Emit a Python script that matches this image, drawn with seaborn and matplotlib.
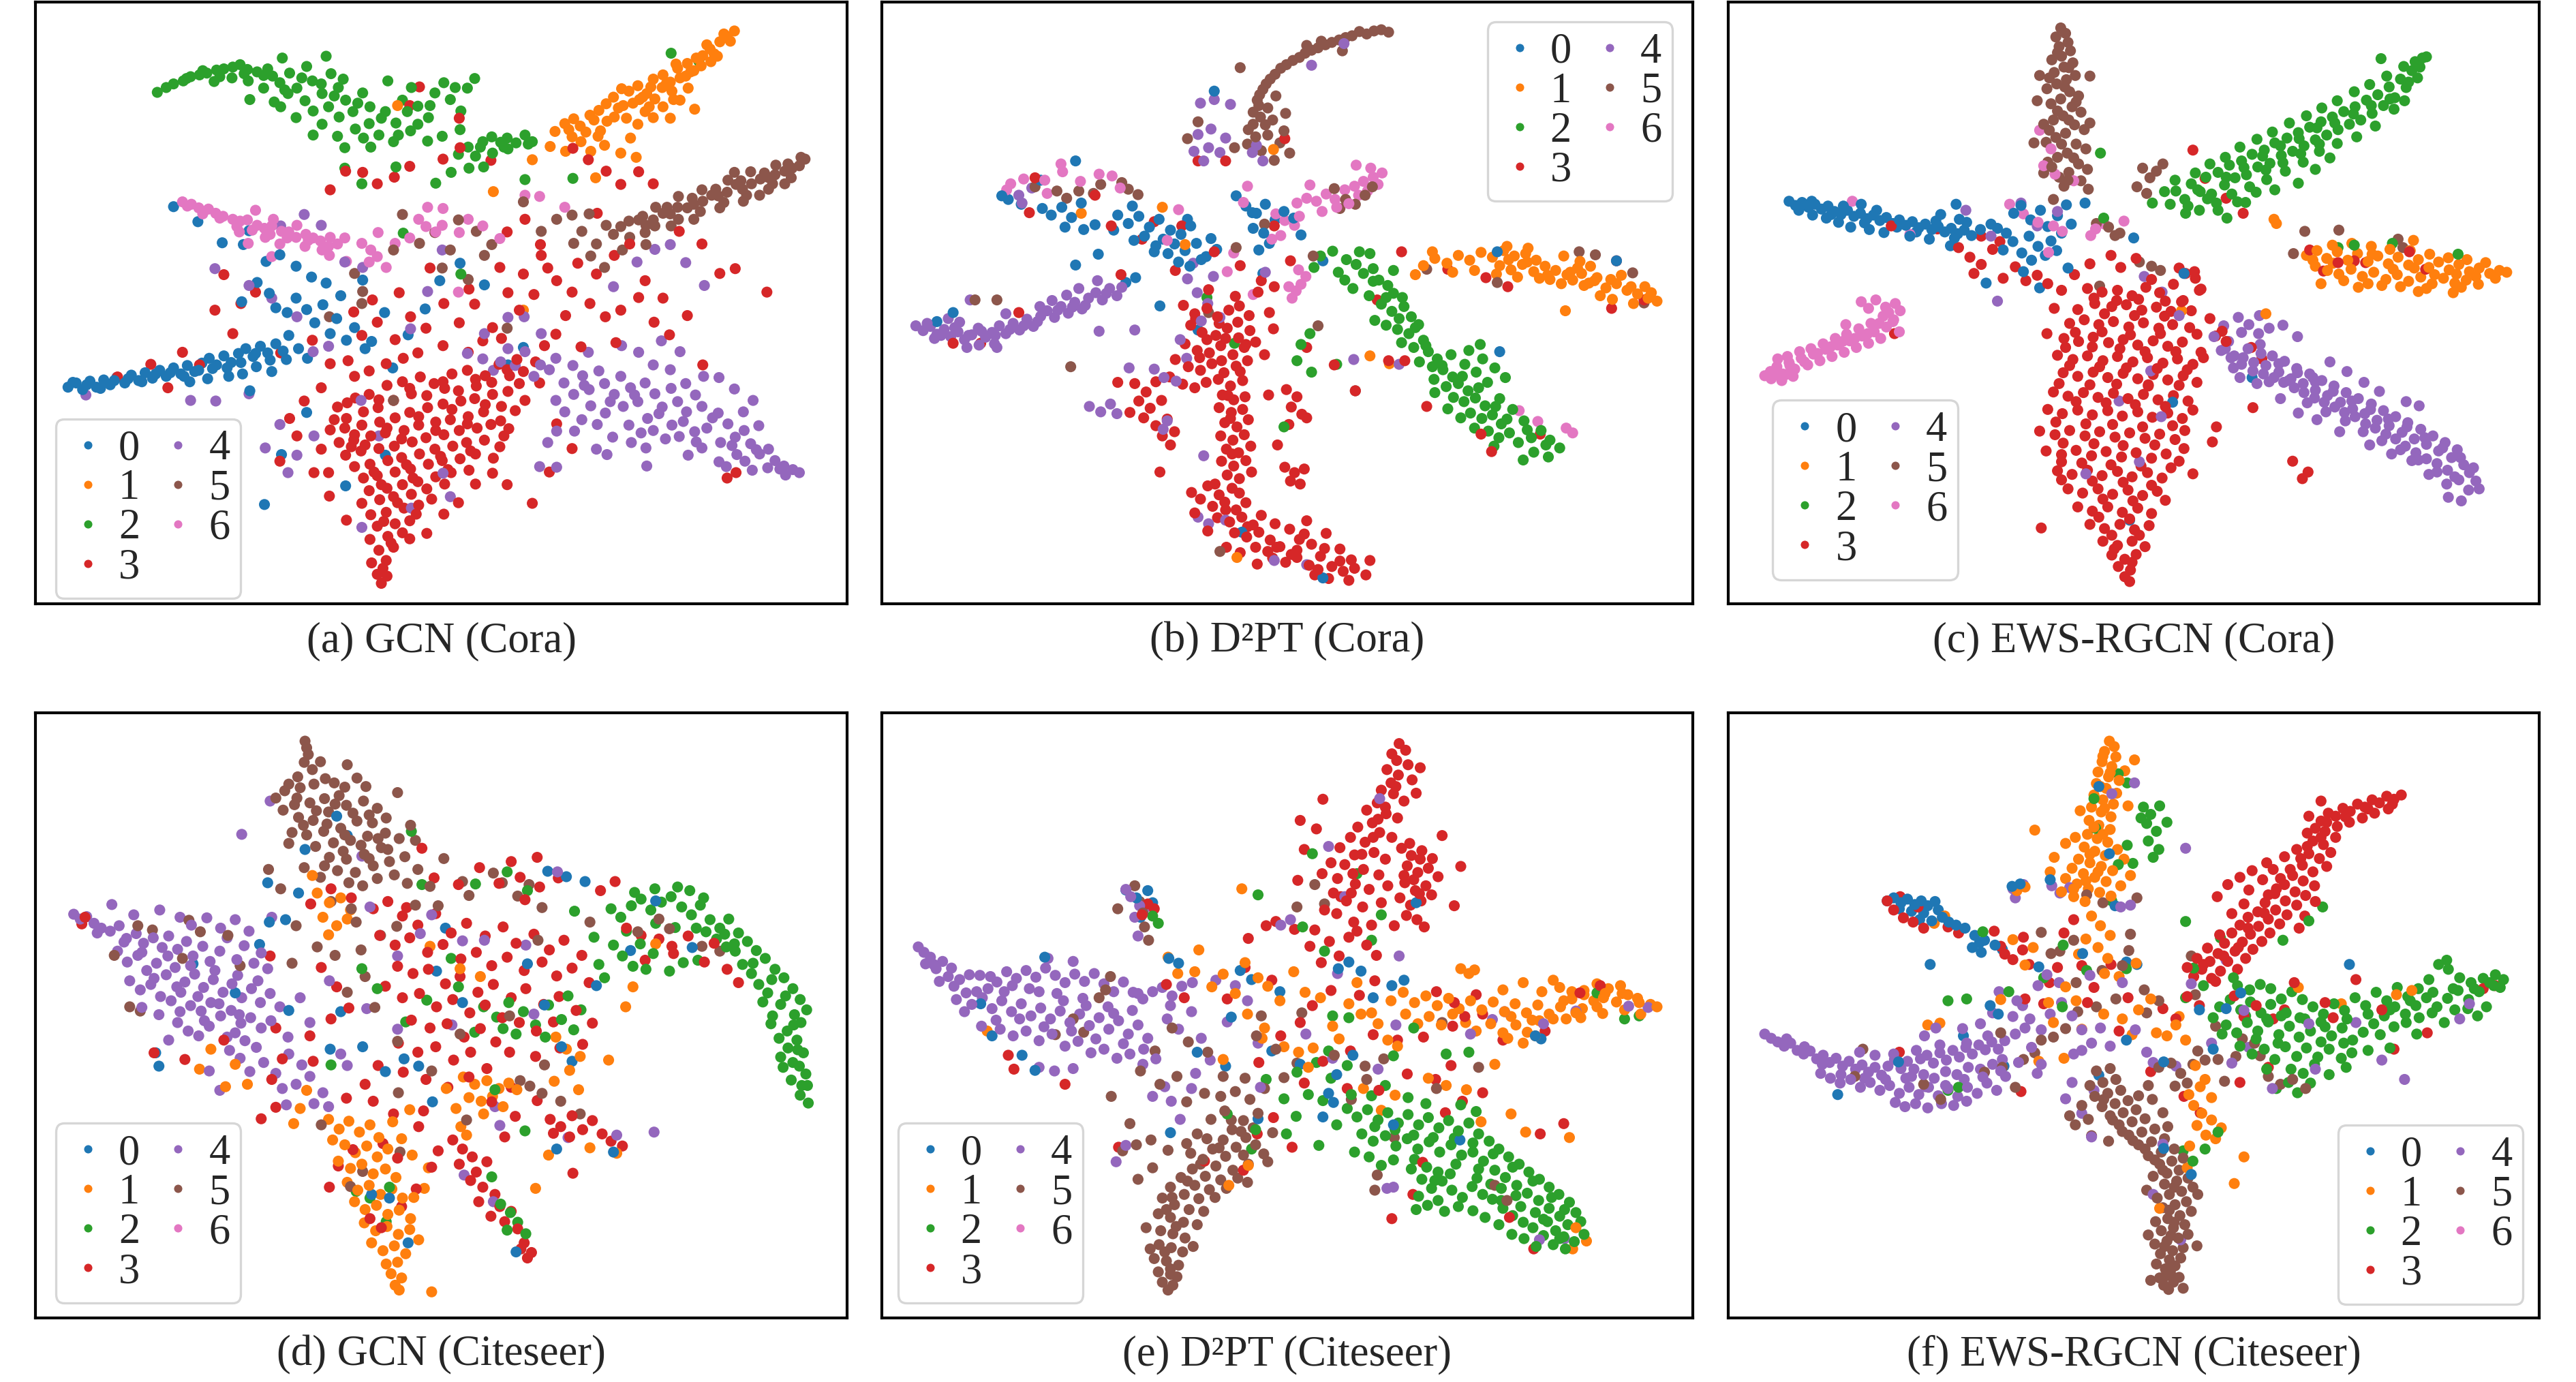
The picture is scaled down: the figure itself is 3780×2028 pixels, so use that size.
import numpy as np
import pandas as pd
import matplotlib
matplotlib.use("Agg")
import matplotlib.pyplot as plt
from matplotlib.lines import Line2D
import seaborn as sns

# t-SNE embeddings, one "x,y" string per class.
# x runs 0..100 left to right, y runs 0..100 top to bottom inside each panel.
LABELS = ["0", "1", "2", "3", "4", "5", "6"]

# ---- (a) GCN (Cora)
a0 = ("4,64 5,63.3 5.8,64.4 6.7,63 7.5,64 8.4,62.8 9.2,63.6 10,62.4 11,63.3 11.8,62 12.7,62.9 13.5,61.6 14.4,62.5 15.3,61.2 16.1,62.2 17,60.8 17.9,61.8 18.7,60.4 19.6,61.4 20.5,60 21.4,59.2 22.3,60.3 23.2,58.8 24.1,59.9 25,58.4 25.9,57.6 26.8,58.9 27.7,57.2 28.6,58.3 29.6,56.8 30.5,58 27.2,60.6 25.5,61.8 23.8,62.2 21.2,62.6 19,63.1 29.1,61.4 31.2,55.4 32.4,57.6 33.5,59.2 26.4,64.6 25.4,49.8 27.3,46.6 28.8,48.4 29.6,50.8 31,51.6 32.1,49.2 33.4,51.1 34.4,53.3 35.4,50.3 36.3,55.1 37.1,52.6 38.3,56.2 39.3,54.1 40.6,57.6 41.4,56.4 37.6,48.8 35.8,46.7 34,45.7 32.1,43.9 28.4,43.1 30.1,42 25.6,40.3 26.3,38 40.3,46.2 43,51.6 48,51 49.8,46.3 52.3,43.4 45.9,55.3 44,60.8 55.3,47 60.1,57.4 58.2,60.3 33.4,68.2 30.3,75.2 38.2,80.4 28.2,83.5 43.1,75.3 17,34 20,36.5 23,40 "
      "4.6,63.2 6.3,63.6 8,64.2 9.7,62.9 11.4,62.6 13.1,63.1 14.8,61.8 16.6,61.6 18.3,62.2 20.1,61.2 21.8,60.9 23.6,60.8 25.3,59.9 27.1,58.4 28.9,59.5 30.9,59.4")
a1 = ("64,21.5 65.2,20.2 66.3,19.4 67.1,20.6 68.3,18.8 69.4,18 66.1,22.4 67.8,21.6 70.3,16.9 71.2,15.8 72.4,17.2 73.1,14.8 74.2,13.9 75.3,15.2 73.6,16.8 76.1,12.8 77.3,12.1 78.2,13.3 79.1,11 80.3,10.2 81.1,11.4 82.2,8.9 83.1,7.8 84.3,6.6 85.2,5.7 86.1,4.8 84.8,5.3 82.7,7.1 80.1,12.3 78.4,14.8 76.3,16.1 75.1,18.2 77.2,14.2 79.4,12.6 81.4,9.3 83.2,9.9 70.4,19.8 71.3,19.1 72.2,14.4 74.4,16.2 77.3,17.4 79.4,16.3 81.2,17.8 76.1,19.2 73.3,22.6 70.1,23.8 67.2,23.2 74.2,20.3 78.2,19.3 84,9 80.4,14.3 65.3,24.8 72.1,25.1 63.4,24 61.2,26.2 75.8,14.1 78.9,10.3 82,10.6 85.6,6.5 69.3,22.3 68.4,24.8 44.6,17.2 69,29.2 74,25.8 60.1,51.2 56.4,31.5 "
      "65.7,21.2 68.8,19.6 71.8,17.6 74.8,15.8 77.7,13.6 80.7,11.6 83.6,8.6 75.6,17.4 72.8,19.3 78.6,16.2 69.6,21.4")
a2 = ("15,15 16.1,14.2 17,13.6 18.2,13.1 19.1,12.4 20.2,12.1 21.1,11.8 22.3,11.3 23.2,11.1 24.3,10.8 25.2,10.4 26.1,11.2 27.3,11.6 24.2,12.6 22,13.2 26.2,13.1 28.1,12.2 29.2,12.3 30.1,13.4 31.3,11.8 32.2,14.3 33.4,10.7 34.1,13.1 35.3,15.2 33.2,16.4 31.1,15.2 29.4,16.6 36.4,11.9 37.3,14.2 38.2,16.3 36.1,17.4 34.2,18.1 32.1,19.2 35.3,20.3 37.4,19.1 39.1,18.2 40.3,15.1 41.2,17.4 39.4,21.1 37.2,22.3 41.1,20.2 42.3,22.1 43.1,18.2 44.4,20.1 45.2,16.3 46.3,14.2 47.1,17.3 48.4,19.2 49.2,15.1 50.3,13.4 51.1,16.2 52.4,18.1 53.2,14.3 54.1,12.7 52.3,21.2 50.1,22.3 48.3,23.1 46.2,21.4 44.1,23.2 41.3,24.1 43.4,13.1 30.2,17.4 28.1,14.3 26.4,16.2 34.2,22.1 38.1,24.2 53.3,24.1 55.1,23.2 56.2,22.4 57.3,23.3 58.1,22.6 59.2,23.4 60.3,22.1 61.2,23.2 54.2,25.6 56.3,25.1 58.2,24.4 52.1,25.3 55.2,27.4 38.1,27.6 40.2,30.2 44.4,27.4 51.2,28.3 53.4,27.6 49.3,30.1 35.8,9 30.4,9.3 45.3,38.4 60.3,29.5 52.4,45.2 66.2,29.3 78.3,8.5 81.7,9.8 "
      "18.6,12.7 20.6,11.4 22.7,12.4 25.7,11.9 28.6,11.1 30.7,14.6 32.8,12.6 35.2,13.6 37.9,12.8 36.8,15.6 39.7,16.8 42.6,19.3 45.8,18.2 48.6,17.2 51.7,14.2 44.7,22.1 47.1,20.3 40.4,22.6 54.8,24.1 57.7,24.1 60.7,23.6")
a3 = ("37.2,67.3 39.4,65.8 41.1,65.2 43.3,63.7 45.2,63.1 47.4,62.3 49.1,63.4 51.3,61.8 53.2,61.2 55.4,62.1 57.1,60.2 59.3,59.4 38.3,69.2 40.4,68.1 42.2,67.4 44.1,66.2 46.3,65.1 48.2,65.4 50.4,64.2 52.1,64.6 54.3,63.8 56.2,63.2 58.4,62.1 60.1,61.4 36.3,71.1 38.1,70.8 40.2,70.3 42.4,69.8 44.3,69.1 46.1,68.2 48.3,67.4 50.2,66.8 52.4,66.3 54.1,65.9 56.3,65.2 58.2,64.7 37.4,73.2 39.2,72.8 41.3,72.1 43.1,71.6 45.4,71.2 47.2,70.3 49.3,69.8 51.1,69.4 53.3,68.9 55.2,68.1 57.4,67.2 59.1,67.9 38.2,75.3 40.1,74.6 42.3,74.2 44.2,73.8 46.4,73.1 48.1,72.4 50.3,71.9 52.2,71.2 54.4,70.8 56.1,70.2 58.3,70.9 39.3,77.2 41.2,76.8 43.4,76.2 45.1,75.7 47.3,75.1 49.2,74.3 51.4,73.8 53.1,73.2 55.3,72.8 57.2,73.9 40.4,79.1 42.1,78.7 44.3,78.1 46.2,77.6 48.4,76.8 50.1,76.2 52.3,75.9 54.2,75.1 56.4,75.8 41.1,81.2 43.3,80.8 45.2,80.2 47.1,79.7 49.3,78.9 51.2,78.2 53.4,77.8 40.2,83.3 42.4,82.7 44.1,82.2 46.3,81.8 48.2,80.9 50.4,80.1 41.3,85.2 43.2,84.8 45.4,84.1 47.2,83.6 42.1,87.1 44.3,86.7 46.1,86.2 41.2,89.3 43.4,88.8 45.2,88.2 42.3,91.1 44.1,90.6 41.4,93.2 43.2,92.8 42.1,95.1 42.6,96.6 43.3,95.4 "
      "38.4,66.6 42.3,66.1 46.1,64.2 50.2,63.1 54.2,62.7 58.1,61.1 39.3,71.9 43.3,70.8 47.2,68.9 51.3,67.7 55.4,66.9 40.6,73.6 45.1,72.6 49.3,71.2 53.2,70.1 57.3,69.6 41.7,78.1 45.7,76.9 49.9,75.5 53.6,74.6 57.7,72.1 42.6,80.2 46.5,79.1 50.8,77.7 44.6,83.2 48.8,82.6 42.9,86.3 46.9,85.1 43.8,89.9 42.8,94.1 59.6,63.4 36.8,69.4 61.6,59.8 38.9,73.9 "
      "30.2,58.3 34.1,56.2 36.3,60.1 40.2,55.4 42.1,53.2 44.3,56.1 46.2,52.3 48.1,54.2 50.3,50.1 52.2,53.3 54.1,50.2 56.3,54.1 58.2,48.3 60.1,45.2 62.3,42.1 64.2,46.3 66.1,48.2 68.3,50.1 70.2,52.3 72.1,51.2 74.3,49.1 76.2,53.2 78.1,55.3 80.3,52.1 82.2,60.3 58.1,38.2 60.3,36.1 62.2,40.3 63.1,44.2 65.3,52.1 64.1,55.2 67.2,57.3 69.1,45.2 71.3,42.1 73.2,40.2 75.1,46.3 77.3,49.2 57.2,44.1 55.1,56.3 53.3,58.2 50.2,57.1 47.1,58.3 45.3,59.2 43.2,60.1 41.1,61.3 39.3,62.2 35.2,64.1 33.1,66.3 31.3,69.2 32.2,72.1 30.1,76.3 34.3,78.2 36.2,82.1 62.1,63.3 60.3,66.2 64.2,70.1 66.1,74.2 63.3,78.1 61.2,83.3 58.1,80.2 56.3,78.3 54.2,80.1 52.1,83.2 50.3,85.1 48.2,88.3 46.1,89.2 38.3,86.1 36.1,78.2 35.2,74.3 27.1,48.2 25.3,50.1 23.2,45.3 22.1,51.2 24.3,55.1 20.2,60.3 18.1,58.2 16.3,64.1 14.2,60.2 10.1,62.3 38.2,28.1 40.3,28.3 42.1,30.2 44.2,29.1 36.3,31.2 46.1,27.3 50.2,26.1 52.3,24.2 56.1,26.3 69.2,35.1 72.1,30.3 74.3,28.2 68.1,26.2 70.3,28.1 66.2,24.3 76.1,30.2 79.3,38.1 82.1,40.2 84.3,45.1 86.2,44.3 90.1,48.2 86.3,78.2 85.2,79.1 46.1,17.2 47.3,14.1 52.2,19.3 61.4,48.6 59.6,51.2 62.7,57.1 66.8,43.4 71.5,56.6 53.4,47.7 48.6,44.2 44.8,48.3 41.5,49.5 39.2,51.5 38.5,59.6 57.4,55.9")
a4 = ("53.2,58.4 55.1,59.3 57.3,59.8 58.2,57.6 56.4,61.2 59.1,60.4 60.3,58.1 62.2,60.3 61.4,62.2 63.3,61.1 64.1,59.2 66.2,60.4 67.4,62.1 65.1,63.3 68.2,64.4 66.3,65.2 69.4,61.3 70.1,63.4 71.3,65.2 68.4,67.1 70.2,68.3 72.1,62.2 73.3,64.1 74.2,66.4 72.4,67.2 75.1,63.3 76.3,65.1 77.2,67.3 75.4,69.2 73.1,70.3 78.3,64.2 79.1,66.4 80.2,68.1 78.4,70.3 76.1,71.2 81.3,65.3 82.1,67.2 83.4,69.1 81.2,71.4 79.3,72.2 84.1,68.3 85.3,70.1 86.2,72.3 84.4,73.2 82.1,74.1 87.3,71.2 88.1,73.4 89.2,75.1 87.4,76.3 85.1,77.2 90.3,74.3 91.1,76.2 92.2,77.1 93.3,77.7 94.1,78.2 92.4,78.6 90.2,77.4 88.3,77.8 86.4,75.2 84.2,76.4 80.4,75.3 75.2,74.1 73.4,73.2 71.1,72.3 69.2,70.2 67.3,69.4 65.2,68.1 64.1,66.2 66.4,71.3 72.2,57.1 74.3,58.2 76.1,60.3 78.2,61.1 80.1,63.4 82.3,62.2 77.1,56.3 79.4,58.1 84.2,62.4 86.1,64.3 88.4,66.2 89.1,70.4 87.2,68.1 70.4,75.2 69.1,74.3 75.3,77.1 64.2,77.3 62.1,77.2 34.2,58.1 36.1,57.2 48.3,48.1 46.2,54.3 50.1,41.2 55.3,55.1 60.2,52.3 74.1,43.2 76.3,41.1 78.2,40.3 80.1,43.3 82.4,47.1 71.2,47.3 68.1,58.2 62.3,55.1 58.2,52.4 30.1,70.2 28.3,74.1 32.2,75.3 40.1,66.2 42.3,72.1 50.2,78.3 51.1,82.2 46.3,84.1 40.2,87.3 31.1,78.2 34.3,72.1 64.2,71.3 63.1,73.2 6.2,65.3 19.1,66.2 26.3,65.1 22.2,66.3 38.1,43.2 40.3,44.1 32.2,52.3 29.1,49.2 26.3,47.1 35.2,37.1 33.1,35.3 30.2,37.2 22.1,44.3 "
      "67.6,63.7 70.8,66.4 73.8,65.3 76.8,68.4 79.8,69.7 82.7,70.8 85.8,73.7 88.8,74.4 91.7,77.6 74.6,71.6 77.6,72.6 81.4,73.1")
a5 = ("94.8,26.1 94.1,27.2 93.2,27.6 92.3,28.1 91.1,28.7 90.2,29.1 89.3,29.4 88.2,30.2 87.1,31.1 86.3,30.3 85.2,31.6 84.1,32.2 83.3,32.1 82.2,33.1 81.1,33.6 80.3,34.2 79.1,34.1 78.2,35.2 77.3,35.1 76.1,36.2 75.2,37.1 74.3,36.2 73.1,36.4 76.4,34.1 79.2,32.3 82.1,31.2 85.3,29.6 88.1,28.2 91.2,27.1 94.3,25.8 93.1,29.2 90.3,31.1 87.2,33.1 84.3,34.2 81.1,36.1 78.3,37.2 75.1,38.3 73.2,39.1 72.1,37.3 70.3,37.1 68.2,35.2 66.1,35.4 67.3,38.1 69.1,40.2 66.3,40.1 68.4,42.2 70.1,44.1 72.3,41.2 64.2,36.1 60.1,33.2 62.3,38.1 75.2,40.3 86.1,28.3 89.2,32.1 92.3,30.2 52.1,36.2 54.3,38.1 49.2,38.3 51.1,41.2 55.3,42.1 50.1,44.2 47.3,40.1 56.2,40.3 44.1,41.2 39.3,45.1 40.2,50.1 58.1,54.2 53.3,46.1 45.2,35.3 44.1,66.2 40.3,48.1 36.2,52.3 "
      "92.7,26.9 89.8,28.4 86.9,29.7 83.8,31.1 80.9,32.6 77.8,34.1 74.8,35.6 71.2,38.6 90.8,30.2 87.6,32.1 84.8,33.3 81.9,34.8 79.2,36.1 76.3,37.2")
a6 = ("18.1,33.2 19.2,33.6 20.1,34.2 21.3,34.4 22.2,35.1 23.1,35.6 24.3,36.1 25.2,36.4 26.1,36.2 27.3,37.1 28.2,37.6 29.1,37.2 30.3,38.1 31.2,38.2 32.1,39.1 33.3,38.6 34.2,39.2 35.1,39.7 36.3,39.1 37.2,40.2 25.1,38.2 28.3,39.1 30.1,40.2 33.2,40.6 27.1,34.6 29.3,36.1 32.2,37.1 35.3,41.2 26.2,40.1 29.1,42.3 36.2,42.1 38.1,39.2 40.2,40.1 41.3,41.2 42.1,42.3 43.2,44.1 41.1,43.2 44.3,40.1 47.2,36.1 48.1,37.3 49.3,38.2 50.1,37.1 52.2,38.3 55.1,37.2 53.3,36.1 57.2,39.3 48.3,34.1 50.2,34.3 46.1,39.2 60.3,32.1 62.1,32.3 65.2,34.1 52.1,48.2 38.3,43.1 42.2,38.3 "
      "18.7,33.9 20.6,35.2 22.7,35.9 24.8,37.3 26.7,37.9 28.9,38.6 31,39.2 33.6,39.6 36.1,40.6")

# ---- (b) D2PT (Cora)
b0 = "29.1,35.4 30.4,36.8 31.7,35.6 33,37.4 34.2,36.1 35.6,37.9 36.9,38.6 38.1,37.2 34.7,39.4 36.1,40.2 37.4,41.3 38.8,40.1 40,42.3 41.3,41.1 35.3,41.8 36.6,43.2 38,43.9 39.4,42.8 32.4,38.9 33.8,40.5 31.1,39.6 40.6,39.3 37.7,36.1 30.9,33.9 28.6,37.9 15.6,32.8 17.2,33.6 19.8,34.3 20.9,35.4 22.2,34.1 23.4,35.8 24.6,33.4 22.6,37.4 24.9,37.8 26.3,37 14.8,32.2 43.7,32.2 44.9,33.9 46.2,35.1 47.3,33.6 48.5,36.2 45.8,37.6 47.1,38.4 49.6,34.8 50.8,35.9 51.7,38.7 46.5,41.2 47.8,40.1 23.9,43.7 31.3,45.8 30.1,46.6 34.3,50.5 39,54.5 47,45.1 54.4,43 75.9,41.5 90.6,43 76.2,58.1 54.4,95.7 44.4,88.1 8.8,51.6 6.8,53.1 19.6,29.6 23.9,26.4 41,14.8 45.7,35 33.6,41.5 26.7,41.9"
b1 = ("66.8,43.8 68.2,42.6 69.7,43.4 71.1,42.1 72.5,42.9 73.9,41.6 75.3,42.4 76.7,41.3 78,42.2 79.4,41.8 80.7,42.9 76.2,43.8 77.6,44.5 79,43.6 80.4,44.8 81.8,43.9 83.1,44.6 84.5,45.3 85.8,44.2 82.4,46.1 83.8,46.8 85.2,46.2 86.6,47.1 87.9,46.3 89.3,47.5 90.6,46.8 91.9,47.9 93.2,48.5 94.5,49.2 95.6,49.7 88.6,48.8 90.1,49.4 92.7,50.1 86.3,45.1 88.2,45.8 78.4,45.7 81.1,45.9 77.1,40.6 79.7,40.9 84.1,42.2 87.4,43.9 91.2,45.4 94.1,47.3 75.8,45.2 73.1,44.6 70.4,44.9 67.9,41.5 65.8,45.3 62.6,60.1 60.2,58.8 37.4,40.3 34.6,34.1 48.3,24.5 24.6,35.1 43.8,92.3 84.3,51.3 "
      "82.1,45.4 84.9,44.9 87.2,46.7 89.9,46.1 92.4,47.3 94.9,48.3 79.6,43.2 77.3,42.8 86.1,43.1")
b2 = ("54.1,42.2 55.6,41.4 57.3,42.8 58.5,43.6 59.4,45.1 60.6,44.3 61.3,46.2 62.4,47.1 63.1,48.4 64.2,49.1 60.1,48.8 61.6,50.2 62.9,51.4 64.4,50.6 65.3,52.3 60.8,52.9 62.2,53.7 63.6,54.4 65,55.1 66.2,53.6 64.1,56.6 65.6,57.4 66.8,56.2 67.4,58.1 68.5,59.3 66.3,59.8 67.9,60.6 69.2,61.1 70.4,62.3 68.1,62.7 69.6,63.9 71.1,63.4 72.3,64.6 70.5,65.7 71.8,66.4 73.2,65.8 74.4,67.1 72.6,68.3 74,69.2 75.3,68.6 76.4,70.1 74.8,71.3 76.1,72.4 77.4,71.6 78.5,73.2 80.1,72.4 81.3,71.2 82.4,72.8 83.6,74.1 80.4,74.8 79.2,69.6 77.8,67.7 76.2,65.9 74.7,63.2 73.3,61.5 71.9,60.2 70.2,58.6 72.4,57.9 74.1,59.3 75.6,60.8 76.9,62.4 73.8,56.9 68.2,64.9 69.8,67.6 71.4,69.1 73.1,70.8 63.1,44.6 58.1,47.6 56.3,44.9 53.3,44.1 60.2,41.8 52.8,55.1 51.7,56.9 51.2,59.6 53,61.5 49.6,70.6 58.9,41.5 57.1,46.2 82.2,75.6 79.1,76.1 75.5,73.8 56.1,60.2 40.1,49.1 43.5,56.7 "
      "62.2,49.1 63.8,52.6 65.8,54.1 67.1,57.1 69.1,60.4 71.6,62.2 73.6,64.1 75.7,67.2 77.1,69.3 79.6,71.1 81.9,73.6 60.6,46.4")
b3 = ("37.2,50.4 38.6,51.8 40.1,50.9 41.4,52.3 42.8,51.2 44.1,50.5 45.3,52.1 38.1,53.7 39.5,54.9 41.2,55.4 42.6,54.2 44,55.8 45.4,54.6 37.4,56.8 38.9,57.9 40.4,58.3 41.8,57.1 43.3,58.6 44.7,57.4 46.1,56.5 36.2,59.4 37.8,60.6 39.3,61.2 40.7,60.1 42.2,61.6 43.7,60.5 45.1,59.6 35.5,62.3 37.1,63.5 38.6,64.1 40,63.2 41.5,62.7 43,63.8 44.5,62.9 46.4,48.2 43.6,48.9 40.3,47.8 47.8,51.6 48.3,54.3 47.2,58.6 "
      "31.2,63.4 32.6,64.8 33.8,63.1 31.7,66.3 33.1,67.5 34.5,66.2 32.3,69.1 33.8,70.4 35.2,69.3 34.6,72.1 36.1,71.4 35.6,73.6 30.6,68.2 "
      "42,65.3 43.4,66.1 44.8,65.6 41.6,67.4 43.1,68.2 44.5,67.7 42.3,69.9 43.8,70.6 45.2,69.4 41.8,72.1 43.3,72.8 44.7,71.9 42.5,74.3 44,74.9 45.5,73.8 41.9,76.3 43.4,77.1 44.9,76.2 42.6,78.6 44.1,79.2 45.6,78.1 43.2,80.8 41.1,80.1 "
      "40.2,80.4 41.6,81.9 39.3,82.6 40.8,83.8 42.3,83.1 43.7,84.4 41.4,85.7 42.9,86.4 44.4,85.6 45.8,86.9 43.5,88.2 45,88.9 46.5,88.1 47.9,89.4 46.1,90.6 47.6,91.3 49.1,90.5 50.5,91.8 48.2,92.4 49.8,93.1 51.2,92.3 52.7,93.6 54.1,92.1 55.5,93.8 56.9,94.6 58.3,94.1 59.7,95.2 53.4,95.2 55.1,95.8 57.6,96.1 51.5,89.3 53,90.1 54.6,90.8 52.1,88.4 50.3,87.6 48.5,86.7 46.8,85.3 44.9,83.2 38.6,84.9 40.2,87.9 42.5,90.6 44.2,91.5 46.3,93.4 52.4,86.2 54.8,88.3 56.5,90.9 57.9,92.7 60.2,92.8 "
      "49.7,77.3 50.9,78.2 52.1,77.6 50.4,79.6 51.6,80.1 49.9,64.4 51.2,65.6 50.5,67.3 51.8,68.5 50.2,70.2 52.4,69.1 "
      "38.7,52.6 41.6,53.4 43.9,53.2 40.1,56.1 42.4,55.9 44.9,56.9 39.2,59.1 41.9,59.6 44.2,61.4 42.7,65.4 43,69.2 43.2,75.1 44.1,81.6 42.4,84.4 45.1,87.2 48.7,90.6 51.2,91.1 53.8,94.3 56.5,92.9 "
      "18.9,29.2 18.2,35 28.3,37.2 33.6,36.5 37,37.2 41,41.5 48.4,37.2 50.4,43 48.4,47.3 39,26.4 42.4,26.4 49.7,22.7 26.3,32.1 12.2,56.7 16.9,51.6 8.8,56.7 64.1,41.5 69.8,44.4 74.5,45.8 77.2,47.3 90.6,43 94,49.5 90,50.9 61.1,49.5 62.5,59.6 64.5,59.6 58.4,64.6 55.8,60.3 52.4,57.4 67.2,67.2 73.9,71.8 75.2,74.7 81.2,71.8 34.3,78.1 46.8,46.3 44.2,43.8 36.2,44.6 32.1,39.4 29.5,45.3 47.7,65.3 48.8,73.6 38.2,81.5 29.1,63.2")
b4 = ("4.2,53.8 5.1,54.6 6,53.9 6.8,55.2 7.7,54.4 8.5,55.6 9.4,54.8 10.2,56.1 11.1,55.3 11.9,54.2 12.8,55.7 13.6,54.9 14.5,53.8 15.3,55.1 16.2,53.4 17,54.5 17.9,52.7 18.7,53.9 19.6,52.2 20.4,51.3 21.3,52.4 22.1,50.6 23,51.7 23.8,49.9 24.7,51 25.5,49.2 26.4,48.3 27.2,49.5 28.1,47.6 29,48.8 29.6,47.4 22.8,48.7 21,49.6 24.3,47.6 26.6,46.3 19.5,50.6 12,57 13.9,56.8 10.5,57.4 9.6,53.2 14.2,57.4 10.9,49.5 15.3,51.8 8.2,52.6 6.5,55.9 41,16.2 43,17 39,22 40.3,24.2 41.7,25 45.7,25 47,26.4 53,10.5 57,6.9 39.7,26.4 40.6,21.1 38.5,24.8 42.4,22.6 46.2,23.8 39.3,16.8 16.9,32.1 18.5,30.9 17.3,33.4 37.7,46 38.9,48.3 40.2,50.1 41.7,52.4 39.4,53 40.9,45.6 38.4,43.4 33.6,61 36.3,63 34.8,62.4 25.6,67.2 27,68.1 28.2,66.8 29,68.4 34.7,71 35.2,69.6 39.7,75.4 39,85.6 40.3,86.7 42.4,86.1 48.4,92.8 52.4,93.5 30.5,60.8 36.8,56.1 37.6,59.2 31.2,54.5 26.8,54.7 58.2,59.4 63.8,60.2 47.3,44.9 "
      "5.6,53.4 7.3,55.4 9,54.1 10.7,55.4 12.3,54.7 14,55.4 15.8,54.4 17.5,53.8 19.2,53.1 21.7,51.2 23.5,50.7 25.1,50.4 27.7,48.4")
b5 = ("62.5,5 61.6,4.6 60.7,4.8 59.8,5.3 58.9,4.9 58,5.6 57.2,5.9 56.4,6.3 55.5,6.7 54.7,7.1 53.8,7.6 53,8 52.2,8.5 51.5,9.2 50.7,9.7 49.9,10.4 49.2,11 48.5,12 47.9,12.8 47.4,13.6 47,14.5 46.6,15.4 46.3,16.3 46.5,17.2 45.8,18.3 46.7,19.1 47.3,20.4 45.2,21.2 46.1,22.4 48.2,19.6 49.8,18.5 44.2,10.9 52.4,7.2 56.8,8.1 54.2,6.5 45.1,23.6 49.1,23.4 50.3,25.1 48.4,26.3 39,19.9 37.7,22.7 43.5,24.2 21.6,31.4 24.3,31.4 27,30.3 29.6,30 31.6,32 18.9,30.7 22.8,32.6 26.1,31.8 30.4,31.1 14.2,49.5 11.5,49.5 23.3,60.6 55.8,31 57.2,32.8 58.4,33.6 59.6,32.1 60.5,30.7 56.5,34.3 67.2,44.4 86,41.5 88,42 92.6,45 94,50 75.9,46.6 43.7,40.8 40.3,51.6 53.8,53.8 58.4,64.6 41.7,91.3 47.2,36.9 53.2,42.2 "
      "47.6,17.6 48.6,15.6 45.8,20.3 47.6,22.1 46.8,24.7 49.6,21.4")
b6 = "51.2,33.4 52.4,32.6 53.6,33.1 54.8,31.9 55.9,32.8 57.1,31.2 58.3,30.6 59.4,29.8 60.6,29.1 61.7,28.4 61.2,30.3 59.9,31.4 58.8,32.1 57.6,33.5 56.1,34.1 54.3,34.8 60.3,27.6 58.5,27.1 52.8,30.4 50.6,49.2 51.1,48 51.7,46.9 52.3,45.6 51.4,44.5 50.2,47.3 15.9,30.2 17.5,29.4 20.1,29.6 22.3,28.2 24.5,29.8 26.8,28.6 28.4,28.9 29.4,30.9 20.4,31.8 22.1,26.9 15.4,31.2 48.6,35.2 49.7,36.3 50.9,37.1 49.2,38.8 51.5,35.6 48.1,39.4 44.6,33.3 45.1,30.6 43.4,41.7 42.6,44.8 36.6,34.5 35.2,39.6 45.8,48.6 84.4,70.8 85.2,71.6 78.6,67.9 80.9,69.7"

# ---- (c) EWS-RGCN (Cora)
c0 = ("7.5,33.1 8.3,33.8 9.1,33.3 9.9,34.1 10.7,33.6 11.5,34.4 12.3,33.9 13.1,34.8 13.9,35.3 14.7,34.6 15.5,35.6 16.3,35.1 17.1,36 17.9,35.4 18.7,36.3 19.5,35.8 20.3,36.8 21.1,36.2 21.9,37.1 22.7,36.5 23.5,37.5 24.3,36.9 25.1,37.8 25.9,37.3 26.7,38.2 27.5,37.6 28.3,38.5 29.1,37.9 30,38.8 13.6,36.6 15.1,37.4 17.4,37.8 19.2,38.3 16.4,33.6 22.4,38.9 24.8,39.4 26.2,35.3 28.5,36.1 12.1,35.9 10.4,35.4 27.4,40.5 32.4,36.9 34.3,38.4 35.2,35.1 36.1,33.8 37.3,36.2 38.5,34.6 39.4,37.3 40.6,35.5 41.7,33.7 37.1,38.9 38.2,40.6 39.8,39.7 41.1,38.4 42.3,36.9 36.2,41.7 37.4,42.9 39.1,42.1 40.5,41.3 41.9,44.2 36.4,44.8 35.1,39.8 33.9,41.2 31.8,46.7 38.4,47.5 28.1,33.6 50,39.2 54.8,66.5 49.5,86.1 64.6,62.4 56.2,45.1 44,33.4 "
      "8.7,34.6 10.3,33.1 12.7,35.3 14.2,33.9 16.8,36.7 18.3,34.6 20.8,37.4 23.2,38.2 25.6,36.4 27.9,39.2 29.4,36.6 31.1,37.8 33.2,37.6")
c1 = ("71.3,42.1 72.6,41.3 73.8,42.6 75.1,41.5 76.4,42.9 77.6,41.8 78.9,43.1 80.1,42.2 81.4,43.5 82.6,42.4 83.9,43.7 85.1,42.8 86.4,44.1 87.6,43.2 88.9,44.5 90.1,43.6 91.4,44.8 92.6,44.2 93.9,45.1 95.1,44.6 96,44.9 72.4,43.9 73.9,44.6 75.3,45.2 76.8,44.4 78.2,45.6 79.6,44.9 81.1,46.1 82.5,45.3 83.9,46.4 85.4,45.7 86.8,46.8 88.2,45.9 89.6,46.7 91,46.2 92.5,46.9 74.5,40.4 76.9,40.1 79.3,40.6 81.6,41.1 84.1,41.3 86.5,41.9 88.8,42.5 91.1,42.8 93.4,43.3 80.6,47.1 77.7,47.4 73.1,46.8 85.1,48.1 89.4,48.3 67.3,36.1 67.6,36.8 84.5,39.6 55.2,58.1 66.3,51.8 55.9,51.3 "
      "72.1,42.9 74.6,43.4 77.1,43.1 79.4,41.9 82,44.4 84.6,44.2 87.1,45.3 89.8,45.2 92.2,45.6 94.6,45.9 75.9,46.3 78.9,46.8 82.9,47.3 86.1,47.6 90.4,47.4")
c2 = ("54.5,33.6 55.2,31.4 56.3,32.8 57.1,30.2 58.2,31.5 58.9,29.1 59.6,31.9 60.4,28.3 61.2,30.4 61.8,27.1 62.5,29.2 63.3,26.4 63.9,28.7 64.6,25.3 65.3,27.4 66.1,24.6 66.8,26.8 67.4,23.4 68.2,25.5 68.9,22.6 69.6,24.8 70.3,21.7 71,23.9 71.7,20.8 72.4,22.9 73.1,19.9 73.8,22.1 74.5,19.1 75.2,21.2 75.9,18.2 76.6,20.3 77.3,17.4 78,19.6 78.7,16.3 79.4,18.5 80.1,15.4 80.8,17.2 81.5,14.1 82.2,15.9 82.9,12.8 83.6,14.2 84.3,11.4 85,12.6 85.6,9.3 84.7,9.9 83.3,10.7 81.2,12.3 79.1,13.7 77.2,14.9 75.1,16.4 73.2,17.6 71.3,18.9 69.2,20.1 67.1,21.6 65.2,22.8 63.1,24.1 61.3,25.8 59.4,26.9 57.6,28.4 66.4,29.5 68.7,28.1 70.9,26.6 62.1,31.9 64.3,30.7 60.2,33.4 58.1,34.6 61.5,35.9 72.9,24.8 75.1,23.5 77.5,22.4 79.8,20.6 56.4,35.1 63.8,33.3 67.4,31.2 70.3,30.1 72.4,27.8 55.1,29.6 52.3,33.4 53.8,31.5 82.1,17.8 83.4,16.4 86.1,9.1 80.5,9.4 74.2,25.9 75.2,40.8 77.2,40.4 81.9,40.1 90,41.9 45.9,25.1 46.3,35.9 "
      "56.7,33.9 59.1,32.7 61.4,29.1 63.6,27.5 65.9,25.6 68.1,23.9 70.4,22.7 72.6,20.9 74.8,20.1 77.1,18.6 79.3,17.2 81.6,16.1 83.9,13.3 85.3,10.8 66.3,27.9 68.4,26.7 70.6,25.2 72.9,23.6 60.4,34.6 62.8,33.2 65.1,31.6 57.9,31.2")
c3 = ("44.3,47.6 46.1,48.2 48,47.9 49.8,48.8 51.5,47.4 53.2,48.3 54.9,46.9 56.4,45.1 57.6,45.9 45.2,50.1 47.3,50.6 49.1,50.3 51,51.2 52.8,50.7 54.6,51.4 56.1,49.6 58.3,47.7 "
      "42.1,53.4 43.9,52.8 45.7,53.6 47.5,53.1 49.4,54 51.2,53.3 53.1,54.2 54.8,53.6 41.4,55.9 43.2,56.4 45,55.7 46.9,56.6 48.7,56.1 50.5,57 52.4,56.3 54.2,57.2 56,56.5 57.8,55.2 "
      "40.6,58.7 42.5,59.4 44.3,58.8 46.2,59.6 48,58.9 49.9,59.8 51.7,59.1 53.6,60 55.4,59.3 57.3,60.2 41.3,61.6 43.1,62.2 45,61.5 46.8,62.4 48.7,61.7 50.5,62.6 52.4,61.9 54.2,62.8 56.1,62.1 57.8,63.2 "
      "40.1,64.8 41.9,65.5 43.8,64.9 45.6,65.7 47.5,65 49.3,65.9 51.2,65.2 53,66.1 54.9,65.4 56.7,66.3 39.4,67.7 41.2,68.4 43.1,67.8 44.9,68.6 46.8,67.9 48.6,68.8 50.5,68.1 52.3,69 54.2,68.3 56,69.2 "
      "38.4,71.3 40.3,71.9 42.1,71.2 44,72.1 45.8,71.4 47.7,72.3 49.5,71.6 51.4,72.5 53.2,71.8 55.1,72.7 39.2,74.6 41.1,75.2 42.9,74.5 44.8,75.4 46.6,74.7 48.5,75.6 50.3,74.9 52.2,75.8 54,75.1 55.6,76.3 "
      "40.6,77.9 42.4,78.5 44.3,77.8 46.1,78.7 48,78 49.8,78.9 51.7,78.2 53.5,79.1 41.9,80.9 43.7,81.6 45.6,80.9 47.4,81.8 49.3,81.1 51.1,82 52.9,81.3 "
      "43.1,83.9 44.9,84.6 46.8,83.9 48.6,84.8 50.5,84.1 52.2,85 44.6,86.8 46.4,87.5 48.3,86.8 50.1,87.7 51.9,87 46.2,89.6 48,90.3 49.8,89.6 51.4,90.5 "
      "47.3,91.9 48.9,92.6 50.3,91.8 48.1,93.8 49.6,94.4 48.9,95.5 49.5,96.3 "
      "45.1,49.2 47.9,49.6 50.6,49.4 53.9,49.7 43.1,51.1 46.4,51.8 50.1,52.1 53.8,52.2 57.1,51.3 42.8,54.9 46.1,54.8 49.6,55.3 53.3,55.1 56.9,54.1 41.6,57.4 44.9,57.3 48.3,57.6 51.4,58.1 55.2,58.1 58.6,59.1 42.1,60.4 45.8,60.6 49.1,60.8 52.9,60.9 56.6,61.1 40.8,63.4 44.6,63.6 47.9,63.5 51.8,63.8 55.6,63.7 42.9,66.4 46.6,66.6 50.2,66.9 53.9,67.2 57.3,67.8 40.4,69.8 44.1,70.1 47.4,70.2 51.1,70.6 54.8,70.4 41.3,73.3 45.1,73.4 48.7,73.7 52.6,73.6 56.2,74.2 43.6,76.6 47.2,76.9 50.9,77.1 54.6,77.4 41.1,79.4 44.9,79.6 48.7,79.8 52.2,80.3 46.2,82.6 49.9,82.9 53.9,82.8 45.7,85.6 49.5,85.9 47.3,88.6 50.7,88.6 49.8,93.1 47.6,90.9 "
      "28.4,40.8 29.8,42.4 31.2,43.6 32.6,41.1 30.3,45.1 33.9,45.9 35.4,44 36.7,46.3 38.1,45.4 39.4,46.8 41.1,47.9 42.7,45.3 44.6,43.5 47.2,42.1 48.4,44.1 50.3,42.6 52.2,46.1 55.6,44.2 57.5,44.8 58.1,47.9 55.9,49.8 20.1,37.2 25.8,37.7 31.2,38.9 33.5,39.8 39.3,55.1 60.1,55.5 58.3,58.2 59.4,52.6 40.2,50.9 61.4,56.4 64.7,67.4 60.2,70.6 59.7,73.1 60.9,54.7 65.8,59.3 64.5,57.4 63.5,35.1 57.3,24.6 58.8,29.3 61.4,32.6 73.4,44.7 71.7,41.2 75.2,43.3 77.2,43 78.6,43.3 84,41.5 86,44.4 20.5,55.1 69.6,76.3 70.8,79.2 71.5,78.1 38.6,87.4 41.1,76.4 51.8,63.6 56.3,71.2 57.3,78.4")
c4 = ("59.9,55.6 60.8,57.9 61.7,56.4 62.4,58.8 63.3,54.9 64.1,57.6 64.8,59.9 65.6,56.9 66.3,60.4 67.1,58.8 67.9,61.5 68.6,59.7 69.4,62.6 70.1,60.9 70.9,63.4 71.7,61.8 72.4,64.5 73.2,62.9 73.9,65.4 74.7,63.8 75.5,66.5 76.2,64.9 77,67.6 77.7,65.9 78.5,68.4 79.3,66.8 80,69.5 80.8,67.9 81.5,70.4 82.3,68.9 83.1,71.5 83.8,69.9 84.6,72.6 85.4,71 86.1,73.5 86.9,72.1 87.6,74.6 88.4,73.2 89.2,75.7 89.9,74.4 90.7,76.9 91.4,78.2 92.2,79.6 92.6,80.9 91.3,81.1 90.1,79.4 88.7,77.8 87.4,76.7 86.1,75.9 84.8,74.9 83.5,73.8 82.3,72.6 81.1,71.8 79.8,70.8 78.6,70.1 77.3,68.9 76,68.2 74.8,67.3 73.5,66.5 72.3,65.8 71,64.9 69.8,64.1 68.5,63.2 67.3,62.4 66,61.8 64.7,61.3 63.3,60.2 62,59.1 61.1,53.8 62.9,52.4 64.2,53.6 65.4,55.1 66.7,54.2 62.3,60.8 63.1,62.4 65.2,63.4 68.1,65.9 70.3,68.3 72.6,69.4 75.4,71.4 79.1,73.6 81.8,75.1 84.3,76.2 86.4,78.5 88.6,80.1 85.2,67.1 83.6,66.4 80.3,64.7 78.4,63.2 76.3,61.4 74.2,59.8 72.1,62.4 90.4,82.9 88.8,82.3 51.3,45.6 53.5,48.2 55.6,52.1 52.1,61.3 53.4,68.9 50.7,76.4 48.2,66.3 44.1,78.4 38.1,37.2 36.1,33.4 40.6,34.8 33.2,49.7 29.3,34.6 32.4,38.9 65.5,52.1 68.4,53.7 70.2,55.6 "
      "61.3,57.6 63.5,59.1 65.7,58.4 67.9,60.1 70.2,61.6 72.4,63.1 74.6,64.7 76.9,66.3 79.2,67.7 81.4,69.3 83.7,70.6 85.9,72.4 88.1,74.1 90.3,75.7 91.9,77.4 66.7,63.1 69.1,62.9 71.4,66.6 73.7,68.1 76.1,69.6 78.3,71.4 80.6,72.9 82.9,74.4 85.1,76.1 87.4,78.1 89.6,78.9")
c5 = ("41,4.3 41.6,5.2 40.4,5.8 41.9,6.7 40.8,7.4 42.2,8.1 41.1,9 39.9,9.6 42.5,10.1 41.4,10.8 40.2,11.7 42.8,12.2 41.7,12.9 40.5,13.6 39.3,14.4 42.1,14.9 43.2,15.6 41,16.1 39.8,16.9 42.4,17.4 43.5,18.3 41.3,18.9 40.1,19.6 38.9,20.3 42.7,20.4 43.9,21.2 41.6,21.8 40.4,22.5 39.2,23.3 42.9,23.6 44.1,24.4 41.8,25.1 40.6,25.8 39.4,26.6 43.2,26.9 44.3,27.8 42,28.3 40.8,29.1 43.5,29.7 44.4,31.1 41.4,30.6 38.4,12.2 38.1,16.4 44.6,12.3 38.9,28.4 40.1,32.8 37.7,23.4 44.6,20.1 51.1,27.6 52,29.2 52.8,28.1 50.4,30.7 53.6,26.9 51.6,31.8 45.4,36.8 46.9,37.4 47.7,38.8 50.7,43.2 52.2,43.9 53.3,44.6 45.8,47.2 71.1,38.1 75.3,37.9 69.7,41.8 82.6,39.4 83.2,40.8 48.3,38.4 "
      "40.6,8.4 42,10.9 39.6,12.6 41.5,14.1 42.9,16.6 40.6,18.1 42,19.6 39.6,21.3 41.1,23.6 42.6,25.9 39.9,27.4 41.9,29.6")
c6 = ("4.5,62.1 5.2,61.4 6,60.6 6.7,61.8 7.5,59.9 8.2,61 9,59.2 9.8,60.3 10.5,58.5 11.3,59.6 12,57.7 12.8,58.9 13.5,57 14.3,58.2 15,56.3 15.8,57.4 16.5,55.5 17.3,56.7 18,54.8 18.8,55.9 19.5,54 20.3,53.1 19.1,52.2 17.6,53.4 16.1,54.3 14.6,55.2 13.2,55.9 11.7,56.8 10.2,57.6 8.8,58.1 7.3,58.9 6.1,59.3 5.3,62.6 6.6,62.9 8,62.2 17.3,50.9 18.2,49.5 19.4,50.7 20.6,50.1 21.2,51.3 20.4,52.8 16.4,49.8 21.1,54.8 14.5,53.6 34.7,33.6 36.4,35.2 38.2,36.6 41.2,38.1 40.1,37.2 45.3,37.7 46.4,36.9 48.8,36.4 44.7,38.8 39.5,41.6 38.9,27.2 38.4,21.3 39.8,24.4 40.3,28.6 42.6,29.7 15.3,33.1 22.4,38.6 "
      "5.9,61.7 7.6,60.4 9.4,59.8 11,58.4 12.6,57.3 14.1,56.4 15.6,55.9 17.2,55.1 18.6,53.4 19.8,51.6 7.1,61.9")

# ---- (d) GCN (Citeseer)
d0 = "27.6,38.3 19.4,41.5 14.8,56.2 15.2,58.4 28.8,34.6 32.4,29.8 28.6,28.1 33.2,22.6 37.1,17.1 38.4,20.3 50.5,35.6 49.4,42.7 52.6,47.9 45.4,57.2 47.2,58.4 60.6,41.5 62.7,48.3 64.8,55.2 66.1,57.6 69.1,45.1 63.1,26.2 65.4,27.1 67.7,27.9 73.3,39.3 80.9,38.8 76.4,31.1 37.6,49.4 40.3,55.2 43.1,59.3 41.4,79.6 43.6,80.2 45.9,87.6 59.2,89.1 64.2,72.1 71.2,72.6 30.8,34.2 24.6,46.3 31.2,49.2 36.3,55.6 48.9,64.3"
d1 = "36.1,67.2 37.4,68.8 38.6,67.5 39.9,69.3 41.2,68.1 42.3,70.2 36.6,70.6 38.1,71.4 39.4,72.7 40.8,71.6 42.1,73.4 43.4,72.1 37.3,74.1 38.8,75.3 40.2,74.6 41.6,76.2 43.1,75.4 44.4,76.8 38.4,77.6 39.7,78.9 41.1,78.1 42.5,79.6 43.9,78.7 45.2,80.2 39.3,80.8 40.6,82.1 42,81.4 43.4,82.9 44.8,82.2 46.2,83.6 40.5,84.3 41.9,85.6 43.3,84.9 44.7,86.2 46.1,85.4 41.4,87.6 42.8,88.9 44.2,88.1 45.6,89.4 43.2,91.1 44.6,90.8 43.8,92.7 45.1,93.4 44.3,94.6 44.8,95.4 46.6,80.1 47.9,78.6 48.4,75.2 46.4,73.1 45.1,70.4 44,67.6 47.2,87.1 52.7,60.2 54.1,61.4 55.6,60.8 57.1,62.1 58.3,61.2 53.4,63.6 54.9,64.2 56.3,63.4 57.6,65.1 51.8,65.4 55.2,66.3 50.6,62.1 53.1,69.8 52.4,68.4 34.7,29.8 36.2,31.4 37.6,30.6 38.8,32.6 35.4,33.8 37.1,35.2 38.4,34.1 36.1,36.7 34.1,26.9 52.3,42.3 54.8,43.6 48.6,38.6 64.1,53.6 65.4,55.6 67.1,56.8 72.7,48.6 76.4,38.2 73.6,45.3 70.6,57.4 66.9,62.3 63.9,60.9 65.8,59.1 21.6,55.6 20.2,58.9 24.6,58.1 26.1,61.4 23.4,61.8 32.6,65.4 33.4,62.4 31.8,67.9 46.1,65.6 59.3,62.3 61.6,78.6 63.2,73.1 68.3,71.9 71.6,72.8 48.8,95.7"
d2 = ("70.9,32.4 72.1,33.8 73.4,31.9 74.6,30.8 75.8,32.6 77.1,31.3 78.3,30.4 79.6,32.1 80.8,33.4 81.9,31.8 83.1,34.2 84.3,35.6 85.4,34.1 86.6,36.4 87.7,37.8 88.8,39.3 89.9,40.6 91.1,42.4 92.2,43.8 93.3,45.6 94.2,47.4 95,49.1 94.3,51.2 93.5,49.9 92.6,52.6 93.8,54.1 94.6,56.2 93.3,57.8 94.9,59.7 95.1,61.6 94.2,63.2 95.2,64.5 92.7,55.4 91.6,53.8 90.6,51.4 91.8,48.2 90.2,46.3 89.1,44.9 88.2,43.1 87.1,41.6 86.2,39.4 85.1,38.7 83.9,37.4 82.6,36.2 81.4,35.6 89.6,47.8 90.8,50.1 92.1,58.6 93.1,60.7 76.4,34.8 78.8,35.5 72.8,36.1 74.5,38.2 76.1,39.8 72.3,40.2 71.2,38.4 73.6,41.9 75.2,42.4 78.1,42.7 79.8,41.3 81.6,40.9 73.8,29.7 76.3,29.1 79.1,28.8 82.3,30.6 80.6,29.4 70.1,43.8 69.4,41.6 68.8,37.1 55.2,48.6 56.8,50.3 58.3,47.9 60.1,49.4 61.6,51.6 63.2,48.3 64.8,50.7 66.3,52.4 59.2,53.1 57.6,52.2 62.8,53.6 65.6,46.8 67.2,49.1 54.1,52.8 48.2,47.5 52.1,45.3 45.6,51.1 51.2,40.6 47.6,28.4 46.3,19.6 56.6,62.3 60.3,69.1 56.2,76.7 57.3,81.2 58.5,82.6 59.4,84.2 58.1,85.5 60.4,86.1 43.6,78.4 41.2,80.2 39.5,79.1 43.2,84.1 36.4,58.2 42.1,45.6 40.2,42.3 66.4,32.8 60.6,29.4 58.1,26.3 54.2,28.3 "
      "86.1,38.2 88.4,41.4 90.7,44.1 92.4,46.8 93.4,51.6 93.9,55.7 94.1,58.4 84.9,36.6 91.8,56.9 94.4,61.6")
d3 = "41.6,32.4 43.4,31.2 45.2,33.6 47.1,35.1 49.3,33.2 51.2,36.4 53.1,34.8 55.4,36.9 57.6,35.4 59.2,38.1 61.4,36.6 63.3,39.2 65.1,37.6 67.3,40.1 60.3,30.9 62.1,28.8 57.1,28.2 59.7,27.2 54.7,25.6 42.4,36.8 44.3,38.4 46.1,37.2 48.3,39.6 50.2,38.3 52.4,40.7 54.3,39.6 56.2,41.8 58.1,40.4 60.2,42.6 62.4,41.2 64.2,43.5 66.1,42.2 68.2,44.6 44.6,41.9 46.5,43.1 48.4,42.4 50.5,44.8 52.3,43.6 54.5,46.2 56.4,44.9 58.6,47.1 60.4,45.6 62.6,48.2 64.5,46.9 66.6,49.2 43.1,45.2 45.2,47.1 47.3,46.4 49.4,48.6 51.4,47.4 53.5,49.6 55.4,48.3 57.5,50.4 59.6,51.2 61.7,52.6 63.8,51.1 46.3,50.8 48.6,52.1 50.7,51.4 52.8,53.6 54.8,52.2 56.7,54.4 44.7,54.6 47.1,56.1 49.3,55.2 51.5,57.4 53.6,56.1 42.2,58.3 40.6,61.4 38.3,63.7 45.3,59.4 48.1,60.6 50.8,61.9 53.4,60.2 55.6,58.8 58.4,56.1 61.6,56.8 64.6,55.4 67.4,54.8 68.6,51.3 51.4,70.6 52.6,72.1 53.8,73.4 52.2,74.6 54.3,75.9 55.6,74.2 53.6,77.3 55.1,78.4 56.6,79.6 54.6,80.8 57.2,81.6 58.6,82.4 57.8,84.1 59.4,85.3 60.2,87.6 61.1,89.2 60.6,90.1 59.8,88.6 56.1,83.2 63.4,67.2 64.7,68.4 66.1,66.6 67.4,68.9 68.6,67.4 69.8,69.6 70.9,70.8 72.3,71.6 65.8,70.1 63.8,69.5 61.8,64.1 58.6,61.9 56.2,64.3 72.8,35.6 74.6,36.8 76.8,37.4 78.4,38.6 80.4,36.9 83.6,38.1 85.2,42.4 86.6,44.6 82.4,41.2 78.6,39.8 75.1,40.9 69.6,29.4 71.4,27.9 64.4,27.3 61.8,23.9 58.6,24.6 52.1,28.4 49.1,27.3 47.6,22.4 45.7,32.2 38.9,30.6 36.4,29.1 33.9,31.6 28.9,40.2 35.2,42.1 37.1,45.3 38.6,48.8 36.4,50.6 33.8,53.4 30.4,57.2 29.1,60.6 34.2,57.6 29.6,65.2 27.8,67.1 41.6,64.2 44.1,66.3 47.2,68.4 42.8,71.2 44.6,73.6 39.1,72.2 37.3,74.9 36.2,78.4 41.2,83.6 42.6,85.1 45.1,81.6 46.9,78.7 48.8,75.1 49.6,72.4 47.8,65.8 23.2,54.1 18.4,57.3 14.6,56.2 6.1,33.8 5.7,34.9 29.6,52.1 66.2,76.1 57.8,70.1 59.1,66.7"
d4 = ("4.7,33.3 5.5,34.1 6.3,33.7 7.2,34.8 8.1,35.6 9.2,36.1 10.3,35.2 11.2,37.3 12.4,36.5 13.3,38.1 14.5,37.2 15.6,38.8 16.4,36.9 17.5,39.1 18.6,37.8 19.4,40.2 20.6,38.6 21.5,41.1 22.7,39.4 23.6,37.2 24.8,40.8 25.7,38.5 26.9,41.4 27.8,39.7 28.6,42.3 10.1,39.4 11.3,41.2 12.6,40.1 13.7,42.6 14.9,41.4 16.1,43.3 17.2,42.1 18.4,44.5 19.6,43.2 20.7,45.4 21.9,44.1 23.1,46.2 24.2,44.8 25.4,47.1 26.6,45.6 27.7,47.9 28.9,46.4 30.1,48.6 11.6,44.3 12.9,45.8 14.2,44.9 15.4,46.9 16.7,47.6 17.9,46.2 19.1,48.4 20.4,49.3 21.6,47.9 22.8,50.1 24.1,49.2 25.3,51.3 26.5,50.4 27.8,52.1 29,50.9 13.1,48.7 15.2,49.9 17.5,51.2 18.8,52.6 20.1,53.4 21.4,51.8 23.6,53.6 25.8,54.2 27.2,55.3 16.4,54.1 15.3,32.6 17.8,33.8 19.2,35.1 21.1,33.9 22.8,35.6 24.6,34.2 26.3,36.1 9.4,31.7 12.1,33.4 25.2,57.1 23.9,55.8 26.4,59.3 28.1,57.8 29.6,59.6 31.2,56.4 32.8,58.2 30.4,62.1 32.1,61.4 33.8,60.1 35.4,62.8 34.3,64.6 30.9,64.8 36.1,65.1 22.7,62.4 21.4,59.2 31.1,53.6 32.6,47.1 33.8,51.2 36.2,44.3 41.2,32.1 29.1,33.8 44.6,40.2 47.4,36.5 48.8,33.4 37.6,56.4 52.6,37.7 55.3,37.6 60.4,38.4 64.3,26.3 40.2,23.7 28.9,14.6 25.4,20.1 61.4,49.8 51.3,51.6 44.6,52.3 40.8,48.9 38.4,58.3 56.6,65.1 57.2,68.2 65.6,70.2 71.6,69.8 76.2,69.3 52.8,76.4 56.4,80.8 "
      "7.6,36.4 10.9,37.9 13.1,39.6 16.3,40.2 19.1,41.8 22.1,42.6 24.9,43.4 27.4,44.3 14.6,43.9 17.4,45.3 20,46.9 22.6,48.1 25.1,49.9 17.8,49.4 20.8,50.9 24.6,52.9")
d5 = ("33.2,4.7 33.4,5.8 33.6,6.9 33.1,8.2 34.1,9.4 32.3,10.6 31.2,11.8 30.7,12.9 32.6,12.4 34.3,11.8 35.7,10.9 36.8,11.6 38.1,12.3 39.6,10.8 40.7,12.2 37.4,13.7 35.6,14.2 33.8,14.9 31.9,15.2 30.5,16.1 32.4,17.3 34.2,17.8 36.1,16.4 38.3,15.3 40.4,14.6 42.1,15.8 43.2,17.4 41.5,18.2 39.6,17.9 37.6,19.1 35.5,19.6 33.4,20.2 31.6,19.8 34.5,22.1 36.7,21.5 38.8,21.1 40.9,20.4 43.1,19.9 44.8,20.8 42.6,22.3 40.5,23.4 38.3,24.2 36.2,23.9 37.2,26.1 39.4,26.4 41.6,25.3 43.6,24.6 45.5,23.8 44.2,26.8 42.1,27.4 40.3,28.6 38.6,28.1 35.1,27.2 46.8,21.1 46.2,18.6 44.6,13.2 29.6,14.1 31.2,21.6 45.8,28.2 47.1,25.9 38.4,8.6 35.1,8.1 28.7,25.9 33.1,25.6 30.2,29.1 36.4,31.2 38.9,32.4 39.5,34.6 32.1,35.2 34.7,38.7 31.6,41.4 36.9,40.1 40.6,43.6 38.4,46.2 41.8,48.7 40.1,39.2 42.5,36.8 44.5,35.3 46.8,31.8 48.6,28.7 49.6,31.9 50.3,24.1 52.6,27.9 53.4,30.2 56.4,26.5 57.5,28.1 59.4,30.3 60.8,28.4 62.4,32.2 61.9,37.6 68.3,34.6 74.2,36.2 76.8,34.1 78.1,35.7 82.1,38.6 84.3,39.4 52.3,53.1 58.4,50.1 62.7,58.2 48.8,59.2 44.7,62.8 53.1,67.3 59.7,60.8 60.9,61.7 62.4,62.9 64.7,64.2 67.1,66.3 44.9,72.6 40.3,75.8 38.8,78.3 12.6,35.2 14.4,35.9 18.9,34.3 20.3,36.2 23.7,36.8 9.7,40.1 18.1,40.6 25.2,41.8 11.6,48.6 12.9,49.3 44.6,54.3 35.2,68.1 "
      "32.2,14.1 34.6,16.2 36.9,15.1 39.1,16.6 41.1,16.9 33,18.6 35.9,18.4 38.1,20.2 40.1,21.9 42.2,20.8 35.6,25.3 37.9,22.9 41.1,24.1 43.4,22.6")
d6 = ""

# ---- (e) D2PT (Citeseer)
e0 = "30.1,29.3 31.4,30.6 32.8,29.4 33.4,31.4 31.9,33.8 35.4,40.6 36.6,41.4 44.2,42.6 45.6,44.1 49.1,46.1 56.3,42.3 57.6,41.2 59.1,42.7 60.6,47.1 62.9,45.1 64.4,44.2 58.1,56.6 56.1,59.8 51.6,58.1 55.1,62.9 48.1,55.9 43.1,50.3 13.6,53.4 17.3,56.6 18.9,59.1 12.2,48.1 20.1,40.4 55.7,64.4 54.4,66.8 63.1,68.1 71.3,70.6 80.6,53.4 81.3,53.9 42.4,58.4 38.9,56.1 65.9,31.4 46.4,67.1 35.6,69.4"
e1 = ("62.8,47.6 64.3,46.2 65.7,47.9 67.1,46.8 68.5,48.4 69.9,47.2 71.2,48.9 72.6,47.6 74,49.1 75.4,47.8 76.8,49.4 78.1,48.1 79.5,49.6 80.9,48.3 82.3,49.8 83.7,48.6 85.1,47.3 86.4,48.9 87.8,47.6 89.2,46.4 90.6,47.8 92,46.6 93.4,47.9 94.8,48.2 95.6,48.6 91.1,45.1 89.6,45.6 88.2,44.8 86.6,45.9 85.1,46.1 83.6,45.4 64.6,49.8 66.1,51.4 67.5,50.2 69,51.6 70.4,49.8 72,51.2 73.3,52.6 75.1,51.4 76.6,52.9 78.2,51.6 79.6,52.8 81.1,50.9 84.4,50.6 86.2,50.4 88.9,49.7 91.6,49.1 93.6,49.8 77.2,53.8 79.1,54.6 80.6,53.4 71.4,42.3 72.4,43.1 73.1,42.5 76.6,45.8 79.1,44.6 81.4,46.1 82.8,44.2 62.4,54.1 63.6,55.1 61.2,51.4 59.1,49.8 57.6,48.1 55.6,51.8 54.1,47.1 52.2,46.2 50.8,42.8 49.1,47.6 47.6,45.2 46.4,43.8 45.1,49.8 43.6,46.4 42.1,43.2 40.7,45.3 38.6,42.8 36.5,43.1 44.8,41.3 39.1,39.2 35.3,40.4 47.2,52.1 49.6,55.2 51.4,56.1 56.4,53.9 53.2,55.4 58.6,44.6 60.4,49.6 42.1,57.3 46.9,53.8 59.4,62.1 61.6,65.7 63.3,63.2 67.4,60.4 69.6,61.6 75.6,58.1 72.1,62.3 45.2,74.8 42.8,78.1 73.9,67.6 77.6,66.3 79.4,69.3 84.8,70.2 85.6,85.1 86.9,87.3 85.2,88.6 13,52.6 44.4,29.1 52.6,58.6 "
      "84.1,47.6 86.6,46.6 89,47.1 91.3,46.4 93.2,47.2 77.6,50.2 80.2,50.8 82.8,50.6 85.6,49.6 88.2,48.6")
e2 = ("57.4,65.4 58.6,66.8 59.9,65.6 61.2,67.3 62.4,66.1 63.7,67.8 64.9,66.4 66.2,68.1 67.4,66.9 68.7,68.6 69.9,67.4 71.1,69.1 72.4,67.8 73.6,69.6 74.9,70.8 76.1,72.1 77.3,73.4 78.6,74.6 79.8,75.9 81.1,77.1 82.3,78.4 83.5,79.6 84.8,80.9 85.6,82.6 86.2,84.1 86.6,86.2 85.4,87.4 84.1,86.6 82.8,87.9 81.6,86.4 80.3,85.1 79.1,84.2 77.8,83.1 76.6,81.9 75.3,80.4 74.1,79.6 72.8,78.3 71.6,80.1 70.3,78.9 69.1,77.4 67.8,78.6 66.6,77.1 65.3,75.4 59.2,69.6 60.6,70.8 62.1,69.9 63.4,71.6 64.8,70.4 66.1,72.1 67.5,70.9 68.8,72.6 70.2,71.4 71.5,73.1 72.9,72.6 74.2,74.1 75.6,75.6 76.9,76.8 78.3,78.1 79.6,79.4 81,80.6 82.3,81.9 83.6,83.2 84.6,84.6 58.3,72.6 60.1,73.4 61.6,74.8 63.1,73.9 65.7,73.8 67.2,75.1 68.6,75.9 70.1,76.2 73.4,76.9 75.1,77.9 76.4,78.6 78.8,81.6 80.6,82.6 82.1,84.1 83.1,85.6 66.2,79.9 67.3,81.4 68.6,80.6 65.9,82.1 69.4,82.4 71.1,81.6 72.9,82.3 74.4,83.4 76.1,84.6 77.7,86.2 79.2,86.9 80.7,88.2 84.3,88.6 56.1,68.1 57.9,63.1 60.4,63.3 62.1,61.6 64.9,63.6 67.1,64.6 71.4,64.8 73.3,65.9 55.4,60.4 53.6,57.8 55.1,55.9 57.4,58.3 51.2,59.4 52.6,63.1 54.4,64.1 49.6,63.8 51.1,66.7 49.9,69.6 46.1,68.9 45.6,72.1 53.9,71.5 47.4,60.6 55.6,50.1 57.6,50.4 51.9,35.4 54.6,39.4 60.4,37.6 61.6,33.4 58.6,26.6 53.1,23.3 46.4,30.1 65.6,52.1 69.6,56.4 72.4,56.1 63.1,56.7 42.6,66.3 88.2,46.3 91.6,50.6 93.4,50.1 33.4,33.6 34.1,34.8 "
      "60.8,68.4 63.3,68.9 65.6,69.8 68,70.2 70.6,70.3 72.9,71.1 75.4,72.9 77.8,75.1 80.3,77.4 82.6,80.1 84.2,82.1 68.2,77.3 70.8,74.6 73.6,75.4 76.4,80.6 78.2,79.8 81.6,83.7 83.6,86.9")
e3 = ("63.8,5.1 64.6,6.2 62.9,6.8 63.5,7.9 64.9,8.6 62.3,9.4 63.7,10.3 65.4,11.1 62.8,11.6 61.6,12.8 63.1,13.4 64.4,14.6 61.1,14.9 59.8,16.1 62.2,16.7 63.6,17.4 60.5,18.2 58.7,18.9 61.4,19.8 62.9,20.6 59.6,21.4 57.8,20.6 56.5,22.3 58.3,23.5 60.7,23.1 62.1,24.2 57.1,25.1 55.4,24.8 59.4,25.9 61.3,26.8 56.2,27.4 54.3,26.6 58.4,28.3 60.1,29.2 62.4,28.6 55.7,29.8 57.3,31.1 59.3,32.1 61.6,31.4 56.1,33.2 58.2,34.6 60.4,35.1 54.6,32.6 53.4,35.9 55.2,37.8 57.6,37.1 59.8,38.4 56.4,40.2 54.2,41.3 52.8,38.6 64.1,22.4 65.3,23.6 66.6,22.8 67.9,24.1 64.8,25.3 66.1,26.4 67.4,25.7 68.6,27.1 64.5,28.1 65.8,29.4 67.1,28.6 63.9,30.6 65.2,31.8 66.5,31.1 64.7,33.5 66,34.2 63.2,35.2 64.4,26.9 67.8,30.1 69.1,20.3 71.4,25.4 70.6,31.9 66.9,35.4 65.9,13.3 66.4,9.1 53.6,19.2 52.1,22.6 54.4,14.3 56.6,30.4 51.3,27.7 51.6,17.8 61,40.1 60.8,44.3 58.9,46.7 55.4,45.9 53.1,48.4 48.1,44.2 44.8,42.1 42.6,47.3 37.3,47.1 35.1,44.9 51.6,51.2 49.2,53.4 46.5,57.8 54.4,57.6 57.8,55.9 60.6,53.2 63.6,54.1 66.8,53.6 70.4,51.8 71.9,50.2 74.1,49.8 73.3,46.6 70.6,47.9 68.4,46.1 76.6,54.1 81.8,52.6 86.1,46.3 88.6,45.1 70.2,58.3 68.3,60.6 64.8,59.7 61.3,62.4 57.4,62.1 52.1,61.2 48.3,66.9 46.3,69.6 50.6,71.8 44.6,75.6 39.8,74.1 29.2,71.8 22.6,61.4 16.3,58.9 15.6,56.6 47.4,35.2 45.2,37.3 32.1,33.4 66.7,74.3 65.5,79.6 62.9,83.6 80.4,88.6 77.4,83.4 81.2,69.6 84.1,67.9 71.6,64.2 69.5,66.1 74.1,62.8 32.8,31.6 33.6,32.4 48.6,34.5 50.9,35.8 "
      "63.4,12.2 62.1,15.6 61.2,17.6 60.6,20.6 59.2,23.4 58.1,26.6 57.9,29.8 58.6,36.1 66.4,24.2 65.6,27.6 66.3,29.9 65.1,21.6")
e4 = ("4.5,38.7 5.2,39.6 6,40.4 5.4,41.5 6.7,42.3 7.5,41.1 8.2,43.6 7.1,44.4 8.9,45.2 9.6,44.1 10.4,46.3 9.2,47.4 11.1,48.2 10.2,49.4 12.4,47.1 13.1,45.6 12.1,43.4 14.2,44.5 15.4,42.8 16.6,43.9 17.8,42.6 19,43.7 20.2,42.2 21.4,43.4 22.6,44.6 23.8,43.2 25,44.4 26.2,43.1 27.4,44.8 28.6,46.1 29.8,44.5 31,46.2 32.2,47.3 33.4,46.1 34.6,45.4 35.8,46.8 37,45.2 38.3,44.6 13.6,48.9 14.8,47.6 16,49.4 17.2,48.1 18.4,50.1 19.6,48.8 20.8,50.6 22,49.3 23.2,51.2 24.4,49.8 25.6,51.7 26.8,50.4 28,52.3 29.2,50.9 30.4,53.1 31.6,51.6 32.8,53.8 12.3,51.8 14.6,52.3 16.2,53.4 17.8,52.6 19.4,54.2 21,53.1 22.6,55.1 24.2,54.3 25.8,56.2 27.4,55.6 29,57.1 30.6,56.4 32.2,58.1 33.8,57.2 15.1,46.1 18.2,45.6 21.6,46.4 24.8,47.2 27.9,48.6 30.9,49.2 20.5,40.6 23.6,41.1 19.4,58.6 21.3,59.2 23.6,58.8 35.2,50.6 36.6,52.3 38.2,49.4 39.4,53.8 40.5,57.4 38.7,59.6 34.9,61.8 35.7,64.2 33.4,63.4 36.8,67.2 31.6,46.4 41.2,44.2 43.6,45.1 45.1,47.6 42.6,51.1 46.4,54.6 38.2,62.1 30.1,71.5 28.9,74.2 31.2,33.8 32.6,32.1 30.7,30.4 49.2,35.1 50.4,34.2 57.1,30.4 52.3,53.1 55.6,57.1 61.2,58.9 63.4,51.6 72.6,53.1 75.3,50.7 76.8,49.4 85.6,49.3 92.1,48.5 94.5,48.7 81.6,51.4 61.4,14.2 55.1,22.1 63.8,40.2 56.2,43.1 46.7,61.9 62.3,78.6 63.1,78.4 81.1,87.1 84.2,86.9 30.1,29.2 31.8,31.9 31.6,36.9 "
      "6.4,41.6 8.6,42.2 10.8,43.3 13.4,43.6 16.1,45.1 19.4,46.1 22.4,47.6 25.2,48.4 28.6,49.7 11.7,46.1 14.1,50.8 17,50.6 20,51.9 23.4,52.6 26.4,53.9 29.8,54.7 32.3,55.6 35.6,48.4")
e5 = ("46.4,66.2 44.6,67.4 45.8,68.6 43.2,68.9 44.9,70.2 42.1,70.6 43.7,71.8 46.1,71.4 40.8,72.1 42.4,73.3 44.6,73.1 47.1,72.9 39.6,73.8 41.2,74.9 43.3,75.6 45.2,74.6 38.3,75.4 39.9,76.6 41.8,77.2 43.9,76.9 36.9,76.8 38.6,78.1 40.4,78.8 42.5,78.6 35.6,78.4 37.3,79.6 39.1,80.3 41.1,80.1 34.6,80.2 36.1,81.3 37.9,82.1 39.7,82.4 34.1,82.8 35.6,83.4 37.2,84.2 38.9,84.6 34.4,85.6 35.9,86.1 37.4,86.8 34.2,87.9 35.7,88.4 37.1,89.1 33.6,90.2 35.1,90.6 36.6,91.3 34.1,92.4 35.6,92.8 34.6,94.1 35.9,94.6 35.3,95.4 36.4,93.2 33.1,88.6 38.4,88.2 32.6,85.1 33.4,75.2 31.6,77.1 48.2,69.4 47.6,74.2 45.1,77.6 31.4,71.4 33.2,70.6 35.3,72.3 37.6,71.2 38.9,69.6 40.6,67.2 42.3,65.8 41.8,63.4 43.6,62.6 45.4,63.9 47.2,62.1 44.8,60.4 42.1,60.1 39.8,62.9 37.6,64.3 36.4,60.1 34.3,61.4 49.6,60.3 51.2,57.9 48.6,55.6 46.2,53.4 35.8,52.1 33.7,55.9 31.9,59.2 37.8,54.4 40.2,56.1 23.6,50.6 21.4,53.2 24.9,52.8 26.8,47.1 29.1,32.4 31.8,31.2 32.4,35.4 28.3,63.4 30.6,67.9 29.7,72.4 46.8,50.1 51.8,49.6 55.8,56.6 59.6,58.4 61.9,57.2 57.9,63.9 63.2,70.2 61.1,76.4 68.4,62.1 69.1,51.2 73.6,58.6 75.6,78.1 77.1,80.6 59.8,60.6 60.8,78.9 53.4,28.4 54.6,31.6 51.2,32.1 28.2,43.6 27.6,45.8 31.2,28.6 32.2,33.1 32.9,37.6 "
      "44.3,69.2 41.6,71.9 39.3,74.6 37.7,77.4 35.8,80.1 35.1,82.1 36.3,84.9 34.9,89.1 35.6,91.9 43.1,67.3 40.1,70.4 38.1,72.8")
e6 = ""

# ---- (f) EWS-RGCN (Citeseer)
f0 = "19.6,31.1 20.4,30.6 21.3,31.4 22.1,30.8 23,31.7 23.8,31.1 24.6,31.9 25.5,31.2 24.1,33.1 22.6,32.8 21.1,32.4 25.9,32.6 26.4,33.8 27.2,34.6 28.1,35.1 25.1,34.4 23.6,34.2 29.2,35.6 30.4,36.8 31.6,37.6 32.9,38.4 31.2,39.6 33.8,39.1 30.1,38.8 35,28.7 36,28.3 39.7,27.6 45.7,12.2 47,23.3 47.7,31.9 49.1,41.2 50.4,41.6 43.7,39.8 45.7,59.9 53.7,57.7 53.7,72 57.1,76.3 58.1,49.1 59.8,55.6 49.1,54.1 29,53.4 13.5,63.1 33.3,49.8 24.9,41.6 31,38 34,58.4 21,57.7 38.3,42 32.3,48.4 61.4,48.9 63.2,46.3 76.6,41.6"
f1 = ("47,4.7 47.6,5.6 46.4,6.4 47.8,7.3 46.1,8.1 47.3,8.9 45.6,9.8 46.9,10.6 48.2,11.2 45.4,11.7 46.6,12.5 47.9,13.3 45.1,13.6 46.2,14.4 47.5,15.1 44.8,15.6 46,16.4 47.2,17.2 44.5,17.8 45.7,18.6 47.1,19.3 44.3,20.1 45.5,20.8 46.8,21.4 43.9,22.2 45.2,22.9 46.5,23.6 43.2,24.2 44.6,24.8 46,25.4 47.4,26.1 42.4,25.7 43.8,26.6 45.2,27.2 46.6,27.9 41.6,27.4 43,28.3 44.4,29.1 45.8,29.7 47.2,30.3 41.1,29.6 42.6,30.4 44,31.2 48.4,28.6 49.6,26.9 48.8,24.2 40.2,23.9 39.7,26.3 48.9,9.6 50.1,7.8 49.3,15.4 43.4,16.2 42.8,20.6 44.8,33.6 45.9,35.2 44.1,37.4 45.6,38.8 47.1,36.8 46.8,40.6 43.2,39.9 48.2,43.6 46.4,43.1 50.3,41.4 41.6,45.3 42.9,47.6 40.1,51.2 43.6,52.3 46.3,49.8 48.6,50.6 49.8,53.2 52.8,52.9 54.1,53.4 55.2,51.6 56.4,54.1 57.6,58.3 58.8,60.6 56.8,63.1 57.4,64.9 58.4,66.2 59.6,67.3 60.8,68.6 58.9,69.8 57.8,68.2 60.1,70.4 56.9,71.6 58.2,61.8 59.6,63.6 52.1,47.3 25.4,34.8 26.7,33.6 35.6,29.4 36.6,28.8 24.6,51.6 26.1,51.3 35.1,37.5 37.6,38.8 33.6,47.4 36.6,41.7 39.5,47.9 55.6,50.2 50.6,49.1 38.3,57.6 41.4,57.1 53.2,81.9 56.6,75.2 62.4,77.8 63.6,73.4 70.3,45.4 75.6,48.1 82.4,46.6 84.3,45.9 37.8,19.4 41.6,21.6 "
      "46.2,7.2 47.1,9.9 45.9,12.2 46.4,15.8 45.1,18.9 46.2,20.1 44.6,23.4 45.6,26.3 44.1,27.8 42.6,29.1 48,22.6")
f2 = ("60.6,48.6 61.9,47.4 63.2,49.1 64.4,47.8 65.7,49.6 66.9,48.2 68.2,50.1 61.4,51.6 62.7,52.9 64,51.2 65.3,52.6 66.6,51.1 67.9,53.2 69.2,51.8 70.5,50.4 71.8,52.6 73.1,51.1 74.4,53.4 75.7,52.1 77,54.1 78.3,52.8 79.6,51.4 80.9,50.1 82.2,48.6 83.5,49.8 84.8,48.4 86.1,47.1 87.4,48.6 88.7,47.2 90,45.9 91.3,47.4 92.6,46.1 93.9,44.6 95.2,45.4 95.6,44.1 94.6,43.3 93.1,43.9 91.6,44.6 90.2,43.8 88.8,42.4 87.6,41.6 88.6,40.9 86.4,44.1 85.1,45.6 83.8,46.9 82.5,45.4 81.2,47.6 79.9,46.2 78.6,48.4 77.3,47.1 76,49.2 74.7,48.1 73.4,49.8 72.1,48.6 70.8,47.4 69.5,46.1 68.2,47.3 66.9,45.6 65.6,44.9 64.3,45.8 62.8,45.1 63.1,55.1 64.6,56.4 66.1,55.6 67.4,57.3 66.4,58.9 68.7,55.2 70.1,56.8 71.3,55.4 72.7,56.9 74.1,55.6 75.6,57.1 76.9,56.2 69.4,58.9 70.9,59.6 72.3,58.1 80.4,53.2 82.1,51.9 83.6,51.2 85.2,50.4 86.8,49.6 89.6,49.1 91.2,48.9 92.4,50.1 93.5,48.6 88.3,51.2 84.9,53.1 81.6,55.4 78.9,55.8 76.2,58.6 74.1,59.8 71.8,61.2 70.2,62.8 69.1,61.1 67.6,62.1 60.9,53.1 59.8,50.4 62.3,43.8 58.6,45.1 57.4,42.2 56.4,47.1 51.2,15.6 52.1,16.8 53.2,15.4 51.6,18.3 52.8,19.6 54.1,18.1 51.8,21.2 53.1,22.6 52.4,23.9 50.9,17.4 48.1,25.1 49.2,21.9 49.9,24.9 47.3,31.1 48.1,10.1 49.2,11.6 45.1,14.2 45.3,19.1 41.3,38.4 44.2,42.6 49.1,42.3 56.4,34.5 60.7,37.2 68.4,37.6 71.6,34.4 73.3,32.1 56.1,72.4 57.3,74.1 58.8,72.1 60.4,69.3 27.1,47.6 31.4,36.2 29.4,47.3 41.2,48.6 38.9,43.8 34.6,46.1 28.4,61.9 27.1,62.4 "
      "63.8,50.1 66.4,50.6 68.8,49.6 71.1,50.6 73.6,51.9 76.3,50.6 78.9,49.8 81.6,49.1 84.1,47.6 86.9,46.2 89.4,45.6 92,45.6 94.4,45.1 65.1,53.9 67.8,54.6 70.4,53.6 73.1,54.4 75.9,54.6")
f3 = ("83,13.6 82.1,14.3 81.2,13.8 80.3,14.9 79.4,14.4 78.5,15.6 77.6,15.1 76.7,16.3 75.8,15.8 74.9,17.1 74,16.6 73.1,17.9 72.4,19.1 73.6,19.6 75.1,18.8 76.6,18.1 78.2,17.4 79.7,16.6 81.4,15.9 72.1,21.2 73.4,21.8 74.9,20.6 71.6,23.3 72.9,24.1 70.8,25.2 72.1,26.3 69.6,26.9 70.9,27.8 72.3,28.6 68.6,28.4 69.9,29.6 71.2,30.2 67.4,29.9 68.7,31.1 70.1,31.8 66.2,31.4 67.5,32.6 68.9,33.4 65.3,32.9 66.6,34.1 68,34.9 64.1,33.8 65.4,35.3 66.8,36.4 63.1,35.1 64.4,36.6 65.8,37.8 62.1,36.4 63.4,37.9 64.7,39.1 61.2,38.1 62.5,39.4 63.8,40.6 60.4,39.8 61.6,41.1 62.8,42.4 59.4,41.1 60.7,42.7 58.4,42.4 59.6,43.9 57.4,43.6 56.6,42.1 57.8,40.6 59.1,38.9 60.6,36.7 62.1,33.2 63.6,31.6 60.3,30.4 61.6,28.4 64.2,29.3 65.9,27.6 67.2,25.9 68.6,23.8 70.1,22.6 66.6,30.1 63.1,27.2 73.1,14.6 71.6,17.1 71.4,19.9 74.3,23.1 73.8,25.4 72.4,31.2 71.1,33.6 70.4,35.6 66.4,24.8 64.6,26.1 56.6,46.9 58.1,48.4 55.2,50.6 53.6,48.9 62.4,46.8 63.6,50.2 65.1,48.4 67.2,50.6 68.6,49.1 69.8,44.6 73.6,47.9 74.6,50.4 77.4,44.1 80.6,49.1 82.1,55.6 86.2,52.9 93.1,45.6 94.6,45.1 66.6,58.6 63.1,61.1 19.6,31.1 20.4,32.6 21.6,33.9 22.8,34.6 24.1,35.6 23.4,32.1 21.2,30.4 27.1,35.4 28.4,36.4 32.8,36.1 33.6,38.6 35.1,40.8 36.3,39.2 34.1,39.9 37.1,41.6 36.4,37.1 41.4,36.4 42.6,34.2 43.6,41.8 45.1,45.4 47.2,41.6 39.6,44.6 40.6,42.1 44.3,47.9 48.2,52.6 49.3,47.1 21.1,56.1 36.6,47.3 38.9,48.1 52.1,59.3 56.2,63.4 58.2,66.1 36.1,62.6 60.1,44.4 "
      "81.9,15.1 78.9,15.9 76.1,17.2 73.8,18.1 73.1,20.6 71.4,22.1 70.6,24.1 69.3,25.9 68.1,27.4 67.6,29.1 66.1,33.1 64.1,35.6 62.9,38.8 61.1,40.2 58.6,41.6")
f4 = ("4.5,53.1 5.3,53.8 6.1,54.4 6.9,55.1 7.7,54.6 8.5,55.8 9.3,56.4 10.1,55.9 10.9,57.2 11.7,56.6 12.5,57.8 13.3,57.1 14.1,58.4 14.9,57.6 15.7,58.9 16.5,58.2 17.3,59.4 18.1,58.6 18.9,59.9 19.7,58.4 20.5,57.3 21.3,58.8 22.1,57.6 22.9,58.9 23.7,57.2 24.5,56.6 25.3,57.9 26.1,56.2 26.9,57.4 27.7,55.8 28.5,56.9 29.3,55.3 30.1,56.4 30.9,54.9 31.7,55.7 32.5,54.4 33.3,55.6 34.1,54.2 11.4,59.6 12.6,60.4 13.8,61.2 15.1,60.6 16.3,61.9 17.5,61.1 18.7,62.4 19.9,61.6 21.1,62.9 22.3,61.9 23.5,63.1 24.7,61.9 25.9,63.3 27.1,62.1 28.3,63.4 29.5,61.9 30.7,62.9 31.9,61.2 33.1,62.4 34.2,60.1 20.6,64.4 21.8,65.1 23.1,64.6 24.6,65.3 26.3,64.6 27.8,64.9 29.4,64.2 22.6,60.1 24.1,59.8 25.4,60.4 26.8,59.3 28.2,59.8 29.6,58.6 31.1,58.9 32.6,58.1 33.8,57.3 18.1,56.6 16.2,56.1 35.4,53.1 36.6,52.1 37.4,55.3 35.8,57.8 35.1,50.2 36.3,48.4 37.2,50.6 38.6,52.4 39.7,49.8 41.1,47.9 42.4,50.1 43.6,52.4 44.8,54.6 45.9,52.1 47.1,55.1 42.6,56.4 38.2,45.1 39.3,43.3 40.8,44.6 32.6,49.6 31.1,51.4 33.4,46.1 35.6,47.6 38.6,58.1 28.9,52.2 25.6,52.1 24.2,53.4 39.9,28.6 40.9,29.8 42.1,28.9 35.1,29.1 36.4,28.4 35.4,30.6 38.1,59.6 43.6,55.8 44.6,43.4 48.6,44.6 50.2,52.4 52.4,57.8 51.6,56.1 55.2,58.4 57.1,44.8 59.6,54.6 61.4,40.9 63.6,49.2 56.4,22.4 47.3,13.4 50.1,11.6 48.4,32.1 49.6,31.8 62.1,57.9 64.2,55.3 80.6,57.4 83.4,60.6 77.4,51.2 71.6,51.4 90.2,50.6 91.4,48.1 72.4,58.9 67.1,62.1 52.4,79.6 55.8,87.1 53.6,71.3 45.1,62.4 43.6,66.2 42.4,61.1 41.6,63.8 44.8,70.1 "
      "7.2,53.9 9.4,55.2 11.6,58.1 13.9,59.8 16.8,60.4 19.4,60.6 21.9,60.4 24.3,61.8 26.8,61.6 29.1,60.6 31.4,60.2 33.6,59.2 20.4,56.4 23.2,55.8 26.1,54.9 29.4,54.6 32,53.4")
f5 = ("54.3,95.3 53.7,94.6 54.9,94.1 53.2,93.4 54.6,92.9 55.6,93.3 53.9,91.9 55.1,91.4 52.8,91.1 54.4,90.4 55.8,90.1 53.3,89.4 54.8,88.9 56.1,88.4 52.6,87.8 54.1,87.3 55.5,86.8 56.7,86.2 53.4,85.6 54.9,85.1 56.3,84.6 52.7,84.1 54.2,83.6 55.7,83.1 57.1,82.4 53.6,81.8 55.1,81.3 56.5,80.8 52.9,80.2 54.4,79.6 55.9,79.1 57.3,78.4 53.8,77.9 55.3,77.4 56.7,76.9 52.4,76.6 54.1,76.1 55.6,75.6 53.2,74.6 54.7,74.1 56.1,73.6 51.8,73.2 53.4,72.6 55,72.1 50.6,71.4 52.2,70.9 53.8,70.4 49.4,69.8 51,69.3 52.6,68.8 54.2,68.4 48.2,68.1 49.8,67.6 51.4,67.1 47.1,66.6 48.7,66.1 50.3,65.6 46.1,65.1 47.7,64.6 49.3,64.1 45.2,63.4 46.8,62.9 48.4,62.4 44.6,61.6 46.2,61.1 47.8,60.6 45.4,59.2 47.1,58.8 43.6,64.9 44.4,67.2 50.6,63.3 52.3,63.9 53.6,66.1 51.8,61.6 53.1,58.6 54.6,57.9 55.8,59.6 56.6,61.2 55.1,61.7 57.3,58.1 58.8,57.4 57.9,55.9 42.1,66.6 42.8,68.1 44.8,69.9 46.9,70.8 57.8,88.1 51.8,86.3 56.1,95.1 52.1,93.8 57.9,79.6 51.6,78.9 66.6,60.1 68.1,61.4 69.6,60.6 71.2,62.1 15.6,60.1 16.6,55.6 24.1,61.4 26.2,63.9 31.6,59.4 33.8,58.6 35.4,61.9 36.4,57.3 37.8,56.2 38.6,54.1 40.1,53.6 41.6,52.2 33.6,52.9 43.1,49.4 42.9,44.6 40.9,39.4 38.6,36.3 39.8,39.8 42.6,37.6 45.4,48.6 47.8,47.3 46.1,42.6 48.6,41.8 49.4,39.3 51.3,45.8 53.1,47.6 51.6,49.6 57.6,46.6 60.1,51.8 63.4,53.9 65.6,56.7 62.6,56.8 60.4,57.3 61.2,60.9 64.9,54.6 57.1,40.2 44.2,30.1 46.2,31.4 50.4,30.6 49.6,36.6 "
      "53.9,93.1 54.6,91.9 53.8,88.2 54.6,86.4 55,84.2 54.4,82.2 55,78.4 53.6,75.6 52.6,73.9 51.4,72.1 49.9,70.7 48.6,69.2 47.4,67.3 46.3,63.9")
f6 = ""

CAPTIONS = ["(a) GCN (Cora)", "(b) D\u00b2PT (Cora)", "(c) EWS-RGCN (Cora)",
            "(d) GCN (Citeseer)", "(e) D\u00b2PT (Citeseer)", "(f) EWS-RGCN (Citeseer)"]
PANEL_DATA = [
    [a0, a1, a2, a3, a4, a5, a6],
    [b0, b1, b2, b3, b4, b5, b6],
    [c0, c1, c2, c3, c4, c5, c6],
    [d0, d1, d2, d3, d4, d5, d6],
    [e0, e1, e2, e3, e4, e5, e6],
    [f0, f1, f2, f3, f4, f5, f6],
]

# layout: axes rectangles (figure fraction) and legend anchors (axes fraction)
RECTS = [
    [0.0138, 0.5631, 0.3151, 0.4354], [0.3423, 0.5631, 0.3148, 0.4354], [0.6709, 0.5631, 0.3148, 0.4354],
    [0.0138, 0.0464, 0.3151, 0.4379], [0.3423, 0.0464, 0.3148, 0.4379], [0.6709, 0.0464, 0.3148, 0.4379],
]
LEGEND_POS = [
    ("lower left", (0.025, 0.009)), ("upper right", (0.975, 0.967)), ("lower left", (0.055, 0.04)),
    ("lower left", (0.025, 0.025)), ("lower left", (0.02, 0.025)), ("lower right", (0.98, 0.022)),
]
CAPTION_Y = [0.536, 0.536, 0.536, 0.0197, 0.0197, 0.0197]


def to_xy(s):
    vals = [p.split(",") for p in s.split()]
    if not vals:
        return np.empty(0), np.empty(0)
    arr = np.array(vals, dtype=float)
    return arr[:, 0], arr[:, 1]


def panel_frame(strings):
    parts = []
    for lab, s in zip(LABELS, strings):
        x, y = to_xy(s)
        parts.append(pd.DataFrame({"x": x, "y": y, "label": lab}))
    df = pd.concat(parts, ignore_index=True)
    # mix the drawing order of the classes, as in the original plot
    order = np.argsort((np.arange(len(df)) * 7919) % len(df), kind="stable")
    return df.iloc[order]


sns.set_style("white")
plt.rcParams["font.family"] = ["Liberation Serif", "DejaVu Serif"]

palette = dict(zip(LABELS, sns.color_palette("tab10")[:7]))

fig = plt.figure(figsize=(12.6, 6.76), dpi=300)

for i, strings in enumerate(PANEL_DATA):
    ax = fig.add_axes(RECTS[i])
    df = panel_frame(strings)
    sns.scatterplot(data=df, x="x", y="y", hue="label", hue_order=LABELS,
                    palette=palette, s=15, linewidth=0, ax=ax, legend=False)
    ax.set_xlim(0, 100)
    ax.set_ylim(100, 0)
    ax.set_xticks([])
    ax.set_yticks([])
    ax.set_xlabel("")
    ax.set_ylabel("")
    for sp in ax.spines.values():
        sp.set_color("black")
        sp.set_linewidth(1.0)

    handles = [Line2D([], [], marker="o", linestyle="", markersize=2.9,
                      markerfacecolor=palette[l], markeredgewidth=0) for l in LABELS]
    loc, anchor = LEGEND_POS[i]
    leg = ax.legend(handles, LABELS, loc=loc, bbox_to_anchor=anchor, ncol=2,
                    fontsize=15, frameon=True, fancybox=True, edgecolor="0.8",
                    borderaxespad=0, borderpad=0.25, labelspacing=0.0,
                    handlelength=1.0, handletextpad=0.22, columnspacing=0.4)
    leg.get_frame().set_linewidth(0.8)

    r = RECTS[i]
    fig.text(r[0] + r[2] / 2, CAPTION_Y[i], CAPTIONS[i], ha="center", va="center",
             fontsize=15)

fig.savefig("out.png", dpi=300)
